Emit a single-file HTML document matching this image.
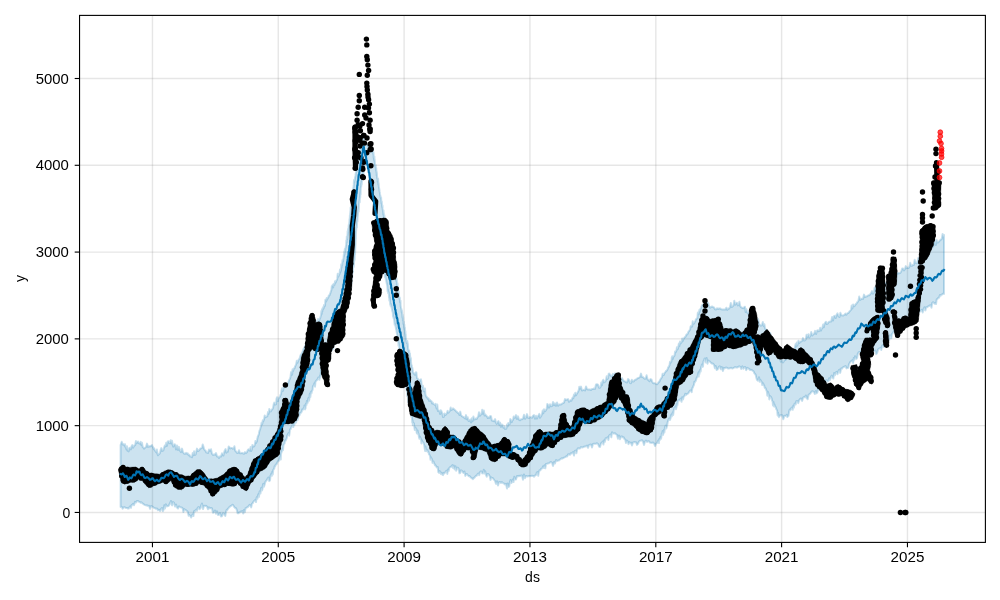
<!DOCTYPE html><html><head><meta charset="utf-8"><style>html,body{margin:0;padding:0;background:#fff;width:1000px;height:600px;overflow:hidden}svg{display:block;will-change:transform}</style></head><body><svg width="1000" height="600" viewBox="0 0 1000 600"><rect width="1000" height="600" fill="#fff"/><g stroke="#808080" stroke-opacity="0.2" stroke-width="1.39"><line x1="152.45" y1="15.4" x2="152.45" y2="542.4"/><line x1="278.28" y1="15.4" x2="278.28" y2="542.4"/><line x1="404.1" y1="15.4" x2="404.1" y2="542.4"/><line x1="529.95" y1="15.4" x2="529.95" y2="542.4"/><line x1="655.8" y1="15.4" x2="655.8" y2="542.4"/><line x1="781.6" y1="15.4" x2="781.6" y2="542.4"/><line x1="907.45" y1="15.4" x2="907.45" y2="542.4"/><line x1="79.55" y1="512.45" x2="985.4" y2="512.45"/><line x1="79.55" y1="425.66" x2="985.4" y2="425.66"/><line x1="79.55" y1="338.87" x2="985.4" y2="338.87"/><line x1="79.55" y1="252.08" x2="985.4" y2="252.08"/><line x1="79.55" y1="165.29" x2="985.4" y2="165.29"/><line x1="79.55" y1="78.5" x2="985.4" y2="78.5"/></g><polygon points="120.6,445.0 121.7,441.8 122.9,444.7 124.0,444.2 124.5,445.6 125.0,444.2 125.5,447.2 126.0,447.7 126.5,449.6 127.0,446.2 127.5,450.7 128.0,449.1 128.7,451.4 129.4,447.9 130.1,447.7 130.9,449.4 131.6,446.2 132.3,445.0 133.0,447.8 133.7,446.5 134.4,445.2 135.1,445.2 135.9,441.1 136.6,443.3 137.3,442.1 138.0,441.5 138.7,443.2 139.3,443.3 140.0,443.7 140.7,441.9 141.3,445.1 142.0,442.8 142.7,447.0 143.3,447.4 144.0,448.6 145.0,447.8 146.0,447.0 147.0,443.6 148.0,446.9 149.0,446.0 150.0,446.6 151.0,445.7 152.0,445.0 152.5,446.8 153.1,447.1 153.6,449.1 154.2,448.3 154.7,450.2 155.3,451.0 155.8,451.7 156.4,452.5 156.9,449.6 157.5,454.0 158.0,455.3 158.7,454.3 159.3,453.9 160.0,452.9 160.7,449.7 161.3,448.1 162.0,451.0 162.7,450.2 163.3,450.4 164.0,447.8 164.8,445.5 165.5,446.5 166.2,442.7 167.0,445.9 167.8,441.4 168.5,441.2 169.2,443.0 170.0,443.3 170.7,440.2 171.3,443.5 172.0,440.7 172.7,445.1 173.3,446.6 174.0,444.9 174.7,444.2 175.3,445.0 176.0,449.4 177.0,445.5 178.0,450.0 179.0,446.9 180.0,450.7 181.0,452.1 182.0,448.6 183.0,452.2 184.0,453.5 185.0,453.9 186.0,452.8 187.0,453.8 187.8,453.4 188.7,455.2 189.5,454.9 190.3,456.5 191.2,456.6 192.0,457.1 192.7,453.0 193.4,455.2 194.1,451.3 194.9,454.9 195.6,454.4 196.3,451.6 197.0,448.6 197.8,451.0 198.7,450.7 199.5,449.7 200.3,448.4 201.2,448.2 202.0,447.9 202.7,444.4 203.4,446.4 204.1,449.1 204.9,450.3 205.6,450.7 206.3,452.4 207.0,452.4 208.0,453.0 209.0,449.5 210.0,450.8 211.0,449.2 212.0,453.7 213.0,455.0 214.0,454.4 215.0,454.8 216.0,453.1 217.0,456.4 218.0,456.4 219.0,458.0 220.0,456.3 221.0,456.6 222.0,453.4 222.7,453.9 223.4,455.5 224.1,452.4 224.9,450.2 225.6,449.0 226.3,452.7 227.0,451.1 227.8,451.6 228.7,446.5 229.5,447.3 230.3,448.4 231.2,447.9 232.0,447.9 232.8,448.7 233.6,448.4 234.4,446.3 235.2,450.6 236.0,451.5 237.0,452.8 238.0,453.0 239.0,450.2 240.0,453.2 241.0,453.3 242.0,452.8 243.0,453.5 244.0,453.8 245.0,452.1 246.0,453.1 247.0,452.0 248.0,449.7 249.0,449.3 250.0,450.8 250.6,447.1 251.2,451.0 251.8,449.3 252.4,445.0 253.0,446.8 253.6,446.1 254.2,446.3 254.8,444.7 255.4,441.0 256.0,443.1 256.3,441.9 256.6,440.7 256.9,441.7 257.1,439.8 257.4,438.6 257.7,436.9 258.0,435.9 258.3,435.5 258.6,434.9 258.9,433.7 259.1,432.3 259.4,431.2 259.7,430.1 260.0,429.8 260.4,428.2 260.8,426.8 261.2,425.9 261.6,422.7 262.0,424.2 262.4,423.4 262.8,420.3 263.2,421.3 263.6,420.2 264.0,419.6 264.7,415.4 265.3,417.3 266.0,416.9 266.7,416.5 267.3,416.3 268.0,412.1 268.7,413.9 269.3,408.9 270.0,411.6 270.7,411.4 271.3,410.4 272.0,409.4 272.6,408.9 273.1,407.7 273.7,404.2 274.3,402.6 274.9,404.5 275.4,404.4 276.0,404.3 276.5,398.8 277.0,397.3 277.5,400.7 278.0,401.0 278.5,398.3 279.0,398.2 279.5,397.1 280.0,396.5 280.5,394.9 281.0,394.1 281.5,390.5 282.0,388.3 282.6,391.0 283.1,390.4 283.7,387.0 284.2,385.1 284.8,385.4 285.3,386.4 285.9,386.2 286.4,384.8 287.0,385.3 287.5,384.4 288.0,383.5 288.5,381.7 289.0,380.4 289.5,379.7 290.0,378.4 290.5,377.0 291.0,372.5 291.4,371.7 291.8,374.9 292.2,373.9 292.6,369.2 293.0,371.1 293.4,370.1 293.8,368.7 294.2,368.2 294.6,368.2 295.0,366.5 295.6,365.5 296.2,363.9 296.8,360.7 297.4,362.8 298.0,361.3 298.4,360.3 298.9,359.3 299.3,359.0 299.7,358.2 300.1,356.6 300.6,355.0 301.0,354.5 301.4,354.1 301.9,353.0 302.3,352.1 302.7,351.1 303.1,350.0 303.6,348.8 304.0,348.1 304.4,347.4 304.9,346.4 305.3,345.2 305.7,344.9 306.1,343.7 306.6,341.8 307.0,341.3 307.5,339.9 308.0,339.9 308.6,338.5 309.1,337.2 309.6,337.5 310.1,336.0 310.7,335.3 311.2,331.9 311.7,333.2 312.2,328.8 312.7,331.6 313.3,331.1 313.8,326.6 314.3,329.5 314.8,329.4 315.3,324.2 315.9,322.8 316.4,325.4 316.9,320.7 317.4,324.3 318.0,319.1 318.5,321.9 319.0,321.6 319.3,320.0 319.7,319.0 320.0,318.4 320.3,317.8 320.7,316.3 321.0,315.2 321.3,311.1 321.7,314.0 322.0,309.2 322.3,311.6 322.7,308.0 323.0,309.5 323.3,306.9 323.7,308.5 324.0,305.1 324.3,306.6 324.7,305.4 325.0,305.6 325.4,299.9 325.8,299.6 326.2,301.4 326.7,298.1 327.1,299.7 327.5,298.5 327.9,297.7 328.3,297.5 328.8,295.5 329.2,295.6 329.6,295.1 330.0,293.8 330.5,292.8 330.9,291.1 331.4,290.0 331.8,286.2 332.3,285.9 332.7,284.8 333.2,287.4 333.6,283.9 334.1,284.6 334.5,284.8 335.0,281.2 335.5,282.7 335.9,281.9 336.4,280.4 336.8,280.2 337.3,278.4 337.7,273.8 338.2,276.8 338.6,276.1 339.1,274.6 339.5,274.1 340.0,269.4 340.2,272.5 340.5,271.6 340.8,270.6 341.0,270.8 341.2,264.3 341.5,267.7 341.8,264.1 342.0,265.3 342.2,264.9 342.5,260.1 342.8,261.9 343.0,261.5 343.2,259.7 343.4,258.8 343.6,257.8 343.8,254.5 344.0,256.1 344.2,251.6 344.4,254.7 344.6,254.2 344.8,249.1 345.0,252.1 345.2,250.8 345.3,248.8 345.5,248.2 345.7,247.6 345.8,246.5 346.0,245.8 346.2,244.0 346.3,240.5 346.5,241.8 346.7,242.4 346.8,236.5 347.0,239.1 347.2,239.2 347.3,238.5 347.5,236.3 347.6,231.3 347.8,235.1 348.0,229.1 348.1,232.8 348.3,231.9 348.4,230.8 348.5,229.7 348.7,225.1 348.8,227.9 348.9,226.5 349.0,225.1 349.1,224.5 349.2,223.3 349.4,222.3 349.5,219.0 349.6,220.4 349.7,218.9 349.8,218.6 349.9,215.1 350.1,216.0 350.2,212.7 350.3,214.3 350.4,211.1 350.5,212.5 350.6,207.4 350.8,207.5 350.9,209.6 351.0,209.7 351.1,207.7 351.2,206.2 351.3,205.4 351.5,204.7 351.6,203.7 351.7,202.0 351.8,197.7 351.9,200.3 352.0,199.2 352.2,198.7 352.3,196.7 352.4,196.3 352.5,192.6 352.6,193.7 352.7,190.6 352.9,192.6 353.0,191.4 353.1,190.4 353.2,189.4 353.3,188.8 353.4,187.5 353.6,187.1 353.7,185.4 353.8,184.9 354.0,179.9 354.2,182.6 354.4,181.1 354.6,180.8 354.8,179.5 354.9,178.8 355.1,177.1 355.3,176.6 355.5,175.5 355.7,174.0 355.9,172.7 356.1,172.1 356.3,168.8 356.5,171.5 356.7,168.9 356.9,167.9 357.1,167.4 357.2,166.1 357.4,165.1 357.6,164.1 357.8,163.4 358.0,159.8 358.2,160.8 358.4,157.5 358.6,159.6 358.8,158.3 359.0,156.6 359.2,156.6 359.3,155.1 359.5,155.5 359.7,152.6 359.9,151.9 360.1,150.6 360.3,150.8 360.7,149.4 361.0,148.4 361.4,146.6 361.8,146.3 362.1,146.2 362.5,143.7 362.9,142.8 363.2,142.8 363.6,138.2 364.3,142.6 364.9,142.6 365.6,144.1 366.3,144.1 367.0,145.0 367.6,145.4 368.3,147.0 369.0,148.1 369.6,149.4 370.3,149.5 371.0,149.6 371.7,151.9 372.3,151.1 373.0,149.1 373.2,153.9 373.3,154.4 373.5,152.4 373.7,157.5 373.8,158.0 374.0,158.3 374.2,160.4 374.4,156.4 374.5,161.3 374.7,159.6 374.9,163.5 375.0,164.8 375.2,166.3 375.4,166.9 375.5,164.7 375.7,165.1 375.9,169.4 376.0,170.0 376.2,168.1 376.4,172.2 376.6,171.3 376.7,175.4 376.9,172.8 377.1,176.9 377.2,178.4 377.4,177.7 377.6,179.9 377.7,181.6 377.9,180.7 378.1,178.7 378.2,180.6 378.4,184.8 378.6,183.0 378.8,186.8 378.9,187.0 379.1,188.0 379.3,189.1 379.4,190.1 379.6,191.5 379.8,192.4 379.9,193.2 380.1,194.4 380.3,195.4 380.4,196.2 380.6,197.5 380.8,197.8 381.0,198.9 381.1,197.3 381.3,201.0 381.5,203.3 381.6,203.2 381.8,201.5 382.0,205.4 382.1,206.7 382.3,207.5 382.5,205.6 382.6,208.9 382.8,209.9 383.0,211.0 383.2,212.7 383.3,214.7 383.5,210.4 383.7,215.2 383.8,213.0 384.0,218.5 384.2,218.4 384.4,215.2 384.6,220.5 384.8,221.4 385.0,222.3 385.2,223.4 385.4,224.8 385.6,225.4 385.9,223.3 386.1,223.8 386.3,226.2 386.5,227.0 386.7,230.1 386.9,232.8 387.1,232.5 387.3,233.7 387.5,230.5 387.7,232.1 387.9,235.9 388.1,237.8 388.3,239.7 388.5,240.5 388.7,240.6 388.9,238.3 389.1,242.1 389.4,243.2 389.6,244.5 389.8,244.8 390.0,246.8 390.2,243.9 390.4,248.1 390.6,249.9 390.8,246.3 391.0,251.7 391.2,248.7 391.4,250.6 391.5,254.5 391.7,255.3 391.9,256.3 392.1,257.6 392.3,255.3 392.4,259.4 392.6,260.7 392.8,258.5 393.0,260.2 393.2,260.9 393.3,264.5 393.5,265.0 393.7,262.2 393.9,267.8 394.1,265.4 394.2,269.6 394.4,270.3 394.6,270.7 394.8,272.9 395.0,273.5 395.1,275.0 395.3,275.8 395.5,275.9 395.7,277.3 395.9,278.7 396.0,279.6 396.2,280.5 396.4,281.3 396.6,278.6 396.8,279.9 396.9,284.4 397.1,285.3 397.3,286.0 397.5,283.2 397.7,289.1 397.8,289.4 398.0,290.5 398.2,292.3 398.4,292.3 398.6,292.9 398.7,294.2 398.9,291.5 399.1,295.9 399.3,297.7 399.5,298.4 399.6,299.1 399.8,297.7 400.0,302.1 400.2,301.9 400.3,300.8 400.5,300.6 400.6,305.0 400.8,306.8 401.0,307.4 401.1,308.0 401.3,308.9 401.5,309.9 401.6,311.3 401.8,312.6 401.9,310.3 402.1,311.9 402.3,315.2 402.4,317.1 402.6,317.9 402.8,315.0 402.9,320.6 403.1,316.7 403.2,318.6 403.4,323.9 403.6,323.7 403.7,324.3 403.9,321.8 404.1,328.0 404.2,327.8 404.4,324.8 404.5,329.4 404.7,327.6 404.9,327.7 405.0,333.1 405.2,334.2 405.4,331.2 405.5,336.3 405.7,334.3 405.8,337.6 406.0,338.9 406.2,340.9 406.4,341.3 406.6,342.2 406.8,343.1 407.1,343.5 407.3,340.9 407.5,342.5 407.7,346.1 407.9,343.9 408.1,349.2 408.3,349.1 408.5,350.1 408.8,351.5 409.0,352.7 409.2,350.5 409.4,354.2 409.6,356.0 409.8,356.9 410.0,353.5 410.2,358.9 410.5,357.2 410.7,360.2 410.9,358.3 411.1,362.8 411.3,364.0 411.5,364.8 411.7,365.3 411.9,366.3 412.2,367.4 412.4,368.3 412.6,369.4 412.8,371.0 413.0,371.7 413.6,373.5 414.1,373.3 414.7,374.5 415.3,374.8 415.9,372.3 416.4,372.5 417.0,378.2 417.6,378.3 418.1,379.0 418.7,380.3 419.3,380.7 419.9,381.0 420.4,379.7 421.0,379.3 421.4,382.0 421.8,386.2 422.2,386.7 422.6,387.2 423.0,385.8 423.4,389.3 423.8,391.3 424.2,390.9 424.6,391.2 425.0,388.6 425.4,394.1 425.8,395.7 426.2,396.1 426.6,397.3 427.0,397.1 427.7,398.6 428.5,398.2 429.2,400.9 429.9,399.8 430.6,400.8 431.4,401.1 432.1,403.6 432.8,402.6 433.5,404.0 434.3,404.5 435.0,404.9 435.6,403.9 436.1,406.6 436.7,408.6 437.3,404.6 437.9,411.0 438.4,410.1 439.0,410.7 439.6,411.6 440.1,414.1 440.7,410.2 441.3,410.9 441.9,412.4 442.4,413.8 443.0,417.1 443.8,416.8 444.5,413.5 445.3,415.0 446.1,414.4 446.8,413.3 447.6,410.9 448.4,412.7 449.2,411.7 449.9,410.9 450.7,407.5 451.5,410.0 452.2,409.4 453.0,408.4 453.8,409.0 454.6,409.8 455.4,410.3 456.2,411.5 457.0,411.8 457.8,412.9 458.6,412.9 459.4,415.0 460.2,411.6 461.0,415.0 461.8,416.1 462.7,416.7 463.5,416.9 464.3,417.8 465.2,418.6 466.0,415.1 466.8,419.2 467.7,417.2 468.5,420.9 469.3,420.8 470.2,419.5 471.0,422.5 471.8,418.2 472.6,421.2 473.4,416.4 474.2,419.5 475.0,419.3 475.8,418.5 476.6,419.0 477.4,417.5 478.2,416.4 479.0,412.2 479.8,415.8 480.6,414.8 481.4,414.2 482.2,409.7 483.0,413.8 483.8,410.4 484.6,415.5 485.4,414.5 486.2,415.8 487.0,416.3 487.8,418.0 488.6,417.3 489.4,417.8 490.2,416.0 491.0,416.2 491.8,420.3 492.6,420.8 493.5,420.8 494.3,421.3 495.1,419.1 495.9,422.4 496.8,424.0 497.6,422.0 498.4,421.0 499.2,424.7 500.1,422.6 500.9,426.9 501.7,424.5 502.5,424.9 503.4,427.8 504.2,426.2 505.0,429.0 505.7,428.4 506.3,428.6 507.0,424.5 507.7,426.4 508.3,422.9 509.0,424.0 509.7,424.2 510.3,419.1 511.0,420.0 511.7,422.1 512.3,420.4 513.0,419.9 513.7,416.5 514.3,417.6 515.0,417.7 516.0,415.1 517.0,419.0 518.0,416.4 519.0,419.6 520.0,420.3 521.0,419.3 522.0,419.3 523.0,418.6 524.0,414.7 525.0,418.8 526.0,417.6 527.0,414.1 528.0,417.7 529.0,418.0 530.0,417.1 531.0,417.4 532.0,417.8 533.0,415.8 534.0,415.1 535.0,418.8 536.0,415.8 537.0,418.6 538.0,416.0 538.7,415.1 539.3,413.8 540.0,417.8 540.7,416.6 541.3,415.7 542.0,414.0 542.7,410.5 543.3,413.2 544.0,409.3 544.7,411.3 545.3,410.9 546.0,409.9 546.7,408.7 547.3,404.0 548.0,404.7 549.0,407.6 550.0,404.3 551.0,406.3 552.0,406.1 553.0,402.0 554.0,405.2 555.0,403.3 556.0,405.8 557.0,402.5 558.0,405.8 559.0,404.6 560.0,404.4 561.0,404.4 562.0,403.7 563.0,403.2 564.0,402.6 565.0,399.1 566.0,400.0 567.0,399.4 568.0,399.1 569.0,401.8 570.0,400.8 570.7,400.1 571.3,400.8 572.0,399.1 572.7,397.5 573.3,398.3 574.0,394.4 574.7,395.8 575.3,392.7 576.0,395.3 576.7,393.9 577.3,393.0 578.0,391.7 578.7,390.4 579.3,386.7 580.0,388.7 581.0,386.6 582.0,390.6 583.0,390.1 584.0,389.8 585.0,390.4 586.0,386.4 587.0,389.0 588.0,389.5 589.0,389.4 590.0,389.5 591.0,390.0 592.0,388.9 593.0,389.1 594.0,388.4 595.0,388.9 596.0,384.5 597.0,384.3 598.0,384.6 599.0,387.7 600.0,387.7 600.7,386.5 601.3,382.5 602.0,385.2 602.7,380.8 603.3,379.7 604.0,382.4 604.7,381.9 605.3,381.5 606.0,379.9 606.7,376.3 607.3,379.0 608.0,378.3 608.7,373.8 609.3,373.6 610.0,374.8 611.0,375.7 612.0,376.7 613.0,373.9 614.0,376.7 615.0,373.3 616.0,377.5 617.0,378.0 618.0,378.6 619.0,375.5 620.0,379.4 621.0,379.4 622.0,378.1 623.0,380.0 624.0,381.1 625.0,381.4 626.0,382.1 627.0,382.5 628.0,378.9 629.0,380.0 630.0,382.9 630.9,383.2 631.8,379.8 632.8,381.6 633.7,381.6 634.6,380.1 635.5,379.6 636.4,379.5 637.3,378.3 638.2,378.0 639.2,377.6 640.1,376.7 641.0,373.6 641.9,377.0 642.9,377.1 643.8,377.9 644.8,378.8 645.7,378.5 646.6,375.3 647.6,379.6 648.5,380.0 649.5,381.3 650.4,379.1 651.4,379.4 652.3,382.0 653.2,383.2 654.2,383.1 655.1,383.4 656.1,383.9 657.0,384.2 657.6,383.7 658.1,383.0 658.7,381.9 659.3,381.8 659.8,380.6 660.4,379.3 660.9,378.7 661.5,377.7 662.1,376.7 662.6,373.7 663.2,375.0 663.8,375.0 664.3,373.4 664.9,372.6 665.4,372.1 666.0,371.0 666.6,370.7 667.1,370.2 667.7,368.8 668.2,367.3 668.6,367.2 669.1,365.9 669.5,365.3 670.0,361.8 670.5,362.9 670.9,361.9 671.4,361.6 671.8,357.4 672.3,356.2 672.8,359.0 673.2,357.1 673.7,356.6 674.2,355.9 674.6,355.2 675.1,351.4 675.5,352.4 676.0,351.5 676.5,350.6 676.9,347.3 677.4,349.4 677.8,348.9 678.3,346.9 678.9,343.4 679.4,346.1 680.0,341.6 680.6,343.5 681.1,342.7 681.7,342.1 682.2,338.4 682.8,341.0 683.4,339.4 683.9,338.3 684.5,337.5 685.1,336.8 685.6,336.7 686.2,335.0 686.7,334.2 687.3,334.4 687.9,333.2 688.4,331.7 689.0,331.1 689.5,330.3 690.1,329.6 690.6,326.5 691.1,325.7 691.7,326.8 692.2,326.1 692.7,321.3 693.3,323.6 693.8,323.7 694.3,322.9 694.9,321.7 695.4,321.0 695.9,319.2 696.5,319.1 697.0,318.1 697.4,318.4 697.8,312.7 698.1,314.7 698.5,311.9 698.9,314.2 699.3,310.1 699.6,311.9 700.0,310.3 700.4,308.9 700.8,308.6 701.2,307.6 701.5,306.4 701.9,305.6 702.3,304.9 703.3,304.3 704.2,305.5 705.2,304.9 706.2,301.6 707.2,302.4 708.1,302.9 709.1,306.0 710.1,307.7 711.1,306.9 712.0,306.5 713.0,307.0 714.0,307.4 715.0,309.2 716.1,309.4 717.1,308.2 718.1,309.0 719.1,308.5 720.2,308.4 721.2,309.2 722.2,309.4 723.2,309.6 724.3,309.6 725.3,309.6 726.3,307.7 727.2,309.9 728.1,308.6 729.0,308.7 729.9,307.5 730.8,303.0 731.6,307.1 732.5,306.4 733.4,305.6 734.3,300.8 735.2,304.7 736.1,303.3 737.0,302.7 737.8,305.4 738.6,304.7 739.4,301.8 740.2,306.1 741.0,307.2 741.8,307.5 742.6,308.1 743.4,308.3 744.2,307.1 745.0,306.8 745.7,312.1 746.4,309.2 747.0,311.8 747.7,313.3 748.4,313.6 749.1,311.4 749.8,311.5 750.4,317.6 751.1,313.6 751.8,318.7 752.5,318.9 753.2,315.6 753.8,316.7 754.5,320.7 755.2,321.4 756.2,322.6 757.1,322.9 758.1,319.0 759.0,324.0 760.0,324.8 760.9,325.7 761.9,325.0 762.8,322.0 763.8,326.3 764.4,324.2 765.0,328.0 765.5,329.1 766.1,329.7 766.7,329.8 767.3,331.1 767.9,331.6 768.4,333.1 769.0,334.0 769.6,334.7 770.2,333.0 770.8,336.0 771.3,337.4 771.9,338.6 772.5,339.1 772.8,340.3 773.2,341.4 773.5,339.6 773.9,343.9 774.2,343.4 774.6,345.8 774.9,347.0 775.3,342.9 775.6,344.0 776.0,349.1 776.3,348.9 776.7,350.9 777.0,351.3 777.4,352.1 777.7,353.2 778.1,353.7 778.4,354.7 778.8,356.7 779.1,357.5 779.5,356.0 779.8,358.9 780.2,356.5 780.5,360.4 780.9,361.7 781.2,360.6 782.1,359.5 782.9,362.5 783.8,361.3 784.6,359.8 785.5,360.0 786.4,355.6 787.2,358.4 788.1,357.4 788.9,357.3 789.8,357.1 790.4,352.4 791.0,354.9 791.5,351.2 792.1,350.3 792.7,349.6 793.3,351.6 793.9,350.4 794.4,350.8 795.0,346.4 795.6,343.9 796.2,346.5 796.8,342.5 797.3,345.4 797.9,343.7 798.5,340.8 799.4,343.0 800.3,341.6 801.2,341.6 802.1,340.8 803.0,338.1 803.9,340.5 804.8,340.4 805.7,339.5 806.6,334.7 807.5,337.3 808.4,334.3 809.3,337.5 810.3,336.0 811.2,331.9 812.2,335.6 813.2,334.3 814.1,333.8 815.1,330.9 816.1,334.0 817.0,330.7 818.0,330.2 818.7,331.3 819.5,330.7 820.2,327.7 820.9,330.6 821.6,328.9 822.4,327.9 823.1,324.4 823.8,327.2 824.5,323.9 825.2,322.6 826.0,321.7 826.7,324.1 827.6,323.7 828.5,322.2 829.4,321.7 830.3,321.5 831.2,321.6 832.1,317.0 833.0,320.5 833.9,316.2 834.8,315.8 835.7,318.0 836.6,314.8 837.5,313.4 838.5,316.3 839.5,316.9 840.4,312.8 841.4,315.3 842.4,315.4 843.4,315.5 844.4,314.8 845.4,313.6 846.3,314.8 847.3,313.2 848.3,313.1 849.0,312.1 849.7,311.2 850.3,310.6 851.0,309.9 851.7,305.4 852.4,308.5 853.1,304.4 853.8,306.0 854.4,306.2 855.1,305.2 855.8,304.0 856.5,303.7 857.2,302.2 857.8,301.9 858.5,300.4 859.2,296.5 860.2,299.9 861.1,299.1 862.1,298.5 863.0,298.9 864.0,294.6 864.9,297.1 865.8,296.5 866.7,296.6 867.5,295.8 868.4,295.3 869.3,295.2 870.2,294.3 871.1,293.2 872.0,291.1 872.9,293.7 873.8,292.4 874.6,287.7 875.5,286.9 876.4,291.9 877.3,289.4 878.1,289.2 878.9,288.3 879.7,287.6 880.5,284.1 881.3,286.2 882.1,285.6 882.9,285.5 883.7,284.6 884.5,284.1 885.3,283.2 886.1,282.4 886.9,283.4 887.7,277.5 888.5,280.2 889.3,280.4 890.1,279.3 890.9,278.2 891.7,278.2 892.5,278.1 893.3,277.0 894.2,275.8 895.1,275.6 896.0,275.2 896.9,272.4 897.8,273.6 898.7,273.0 899.6,273.2 900.4,272.8 901.3,271.3 902.2,268.4 903.1,268.5 904.0,270.4 904.9,269.1 905.8,266.1 906.7,268.2 907.6,267.6 908.5,268.0 909.4,266.9 910.2,262.7 911.1,265.8 912.0,265.7 912.9,264.8 913.8,265.0 914.7,259.7 915.6,262.7 916.5,263.3 917.3,262.8 918.2,258.1 919.1,260.7 920.0,256.5 920.6,256.5 921.3,259.3 921.9,258.0 922.5,257.0 923.1,256.7 923.8,255.3 924.4,252.3 925.0,250.3 925.7,253.7 926.3,253.2 926.9,252.5 927.6,247.9 928.2,250.9 928.8,249.6 929.4,246.8 930.1,245.5 930.7,247.2 931.6,246.5 932.4,246.7 933.2,246.5 934.1,242.2 935.0,240.9 935.8,245.1 936.6,239.8 937.5,242.5 938.2,242.5 938.9,241.6 939.7,240.7 940.4,239.7 941.1,239.5 941.8,238.8 942.6,234.0 943.3,237.2 944.0,235.0 944.0,294.0 943.2,293.5 942.4,294.4 941.6,294.5 940.8,295.6 939.9,295.0 939.1,297.7 938.3,297.8 937.5,298.9 936.7,299.4 936.0,304.1 935.2,303.0 934.5,303.8 933.7,302.6 933.0,302.2 932.2,303.0 931.5,307.7 930.7,305.2 929.8,305.4 928.9,306.1 928.0,306.5 927.1,307.3 926.2,307.3 925.4,310.4 924.5,307.2 923.6,309.0 922.7,312.5 921.8,309.7 920.9,310.4 920.0,311.6 919.3,311.6 918.5,313.1 917.8,313.1 917.0,313.0 916.3,318.8 915.6,319.5 914.8,316.0 914.1,317.0 913.4,318.1 912.6,319.1 911.9,322.9 911.1,323.6 910.4,321.4 909.7,322.0 908.9,322.7 908.2,321.9 907.4,323.4 906.7,324.5 905.8,325.1 904.9,325.8 904.0,326.2 903.1,326.4 902.2,330.6 901.3,327.9 900.4,328.6 899.6,329.0 898.7,329.7 897.8,329.6 896.9,332.8 896.0,331.1 895.1,330.7 894.2,331.1 893.3,332.1 892.6,333.4 892.0,334.0 891.3,338.2 890.6,335.7 890.0,335.2 889.3,339.8 888.6,338.1 888.0,341.4 887.3,342.9 886.6,343.7 886.0,341.5 885.3,342.0 884.7,346.1 884.0,346.9 883.3,346.8 882.7,345.3 882.0,346.0 881.3,349.9 880.7,347.8 880.0,348.2 879.0,348.6 878.1,349.5 877.1,353.1 876.2,354.2 875.2,350.5 874.3,351.0 873.4,351.4 872.4,352.1 871.5,355.2 870.5,351.9 869.6,355.3 868.6,356.2 867.7,353.7 866.7,356.2 865.6,354.1 864.6,352.3 863.5,353.0 862.4,352.3 861.3,352.3 860.3,351.9 859.2,352.0 858.5,352.6 857.8,353.7 857.2,357.5 856.5,358.9 855.8,358.3 855.1,356.2 854.4,359.9 853.8,358.0 853.1,362.9 852.4,360.1 851.7,360.9 851.0,361.4 850.3,361.9 849.7,363.0 849.0,364.2 848.3,367.8 847.4,368.1 846.5,368.4 845.6,366.1 844.7,366.5 843.8,366.9 842.9,367.3 842.0,368.8 841.1,368.6 840.2,372.9 839.3,369.6 838.4,371.0 837.5,374.3 836.7,371.9 835.8,372.3 835.0,375.3 834.2,373.0 833.3,378.5 832.5,377.6 831.7,375.6 830.9,376.9 830.0,380.1 829.2,378.2 828.4,380.9 827.5,381.6 826.7,380.2 826.0,380.5 825.2,383.7 824.5,382.3 823.8,382.7 823.1,385.4 822.3,384.5 821.6,384.9 820.9,385.7 820.2,385.9 819.4,387.4 818.7,390.2 818.0,388.5 817.3,392.6 816.5,393.4 815.8,391.0 814.9,394.0 814.0,392.0 813.1,391.5 812.2,391.2 811.3,392.0 810.4,393.4 809.5,394.2 808.6,394.8 807.7,399.2 806.8,398.3 805.9,395.5 805.0,397.3 804.0,396.9 803.1,397.8 802.1,401.0 801.1,398.5 800.2,398.9 799.2,400.2 798.2,403.1 797.3,401.0 796.3,401.2 795.7,404.5 795.1,403.3 794.5,404.0 793.9,407.5 793.3,405.8 792.7,409.8 792.1,407.5 791.5,407.8 790.9,408.9 790.3,410.3 789.7,409.5 789.1,411.5 788.5,415.8 787.9,416.4 787.3,417.0 786.7,414.8 786.1,415.7 785.5,415.9 784.4,415.8 783.3,419.3 782.2,415.3 781.2,415.2 780.1,415.3 779.0,417.1 778.5,416.1 778.1,412.8 777.6,415.5 777.2,410.9 776.7,409.7 776.3,409.1 775.8,407.5 775.3,406.5 774.9,406.3 774.4,404.2 774.0,406.5 773.5,402.1 773.0,405.6 772.6,401.2 772.1,400.8 771.7,398.5 771.2,397.6 770.8,396.7 770.3,396.5 769.8,395.8 769.3,399.4 768.8,394.9 768.3,393.0 767.8,391.7 767.3,395.7 766.8,391.2 766.3,390.3 765.7,388.2 765.2,388.2 764.7,387.7 764.2,385.5 763.7,385.3 763.2,383.5 762.7,383.3 762.2,385.1 761.7,381.9 761.0,381.0 760.4,379.9 759.7,381.8 759.0,377.2 758.4,380.1 757.7,380.6 757.0,379.9 756.3,377.8 755.7,374.9 755.0,373.9 754.3,373.2 753.7,371.6 753.0,371.0 752.0,370.2 751.1,369.8 750.1,370.0 749.1,368.9 748.1,368.3 747.2,367.8 746.2,370.2 745.2,367.0 744.2,367.2 743.3,368.7 742.3,366.3 741.3,369.0 740.3,366.8 739.2,366.3 738.2,367.0 737.2,367.5 736.2,367.6 735.1,367.1 734.1,367.7 733.1,368.2 732.1,368.5 731.0,367.8 730.0,368.3 729.0,368.4 728.0,368.6 727.0,367.7 725.9,367.5 724.9,368.3 723.9,367.9 722.9,371.0 721.8,366.9 720.8,369.3 719.8,366.3 718.8,366.9 717.7,369.4 716.7,370.0 715.7,366.0 714.9,368.3 714.1,365.1 713.2,363.9 712.4,363.5 711.6,363.4 710.8,362.8 709.9,361.5 709.1,361.4 708.3,360.5 707.5,363.7 706.6,357.9 705.8,362.6 705.0,358.4 704.6,358.6 704.2,360.0 703.8,360.7 703.4,361.6 703.0,366.3 702.7,366.9 702.3,364.6 701.9,364.5 701.5,366.1 701.1,367.1 700.7,371.5 700.3,369.4 699.9,370.4 699.5,373.8 699.1,371.4 698.7,376.6 698.4,372.6 698.0,374.4 697.6,376.0 697.2,377.2 696.8,377.5 696.4,378.9 696.0,380.1 695.6,381.1 695.2,381.2 694.8,382.4 694.4,381.9 694.0,384.9 693.7,385.3 693.3,386.2 692.9,387.6 692.5,387.7 692.1,389.6 691.7,392.2 690.9,390.4 690.1,390.4 689.3,391.7 688.5,393.1 687.8,393.7 687.0,394.0 686.2,394.9 685.4,393.7 684.6,395.9 683.8,396.5 683.0,399.6 682.2,397.3 681.5,401.8 680.7,398.6 679.9,400.0 679.1,400.4 678.3,400.3 677.8,401.3 677.4,405.2 676.9,404.0 676.5,407.1 676.0,409.2 675.5,406.6 675.1,407.6 674.6,407.7 674.2,408.8 673.7,410.6 673.2,415.0 672.8,412.2 672.3,414.8 671.8,416.6 671.4,414.6 670.9,415.5 670.5,418.5 670.0,420.0 669.5,418.8 669.1,418.6 668.6,419.6 668.2,420.7 667.7,422.0 667.2,425.0 666.8,426.8 666.3,428.6 665.8,425.6 665.4,426.0 664.9,427.6 664.4,432.3 664.0,429.8 663.5,433.3 663.0,434.9 662.6,431.1 662.1,433.4 661.7,433.8 661.2,438.1 660.7,439.2 660.3,436.9 659.8,439.9 659.3,438.9 658.9,443.1 658.4,440.3 657.9,441.0 657.5,442.6 657.0,443.0 656.0,443.7 655.0,446.0 654.0,443.5 653.0,442.4 652.0,442.9 651.0,442.8 650.0,442.8 649.0,441.2 648.0,441.3 647.0,442.0 646.0,440.5 645.0,441.6 644.0,445.1 643.0,441.6 642.0,440.2 641.0,440.5 640.0,440.7 639.0,441.5 638.0,443.8 637.0,444.9 636.0,442.2 635.0,442.2 634.0,442.1 633.0,442.4 632.0,445.5 631.0,442.6 630.0,443.2 629.2,442.0 628.4,444.1 627.6,441.2 626.8,440.5 626.0,443.0 625.2,439.6 624.4,439.0 623.6,437.3 622.8,437.4 622.0,436.5 621.0,436.6 620.0,439.2 619.0,435.4 618.0,438.8 617.0,434.9 616.0,434.2 615.0,433.2 614.0,433.4 613.0,433.6 612.0,432.2 611.3,437.3 610.6,434.5 609.9,434.8 609.1,435.7 608.4,439.9 607.7,437.3 607.0,438.0 606.3,438.6 605.6,438.3 604.9,441.9 604.1,440.3 603.4,444.5 602.7,441.5 602.0,442.6 601.0,443.4 600.0,447.0 599.0,446.5 598.0,444.0 597.0,443.2 596.0,443.8 595.0,443.8 594.0,443.7 593.0,443.9 592.0,447.5 591.0,444.4 590.0,444.7 589.0,445.1 588.0,447.8 587.0,445.6 586.0,446.3 585.0,446.5 584.0,446.8 583.0,447.2 582.0,447.4 581.0,447.1 580.0,448.5 579.0,448.5 578.0,448.2 577.2,449.5 576.4,453.3 575.6,450.6 574.8,450.9 574.0,455.5 573.2,452.0 572.4,452.8 571.6,453.5 570.8,453.3 570.0,454.8 569.1,454.5 568.2,454.3 567.2,456.4 566.3,456.3 565.4,457.1 564.5,457.4 563.5,457.9 562.6,458.5 561.7,458.3 560.8,459.1 559.8,459.6 558.9,460.5 558.0,460.6 557.0,461.0 556.0,460.1 555.0,463.6 554.0,462.0 553.0,465.9 552.0,462.7 551.0,462.0 550.0,462.5 549.0,463.3 548.0,463.4 547.0,463.8 546.0,464.0 545.3,468.3 544.6,465.2 543.9,468.0 543.2,466.2 542.5,467.7 541.8,468.7 541.1,468.8 540.4,470.3 539.6,470.2 538.9,471.8 538.2,475.8 537.5,472.1 536.8,472.6 536.1,475.0 535.4,475.5 534.7,475.5 534.0,476.6 533.0,476.0 532.0,475.8 531.0,476.0 530.0,476.2 529.0,475.9 528.0,476.5 527.0,476.3 526.0,476.1 525.0,478.1 524.0,474.5 523.0,479.8 522.0,475.6 521.0,475.5 520.0,476.2 519.0,475.8 518.0,476.4 517.0,476.0 516.0,479.6 515.0,479.5 514.3,476.8 513.5,482.1 512.8,479.5 512.1,481.7 511.4,482.9 510.6,479.9 509.9,481.9 509.2,486.5 508.5,487.0 507.7,483.5 507.0,488.5 506.0,483.8 505.0,484.4 504.0,483.5 503.0,483.1 502.0,482.1 501.0,483.0 500.0,482.0 499.0,482.2 498.0,485.5 497.0,481.3 496.0,483.9 495.0,481.0 494.2,480.0 493.5,479.0 492.8,478.1 492.0,478.2 491.2,477.3 490.5,480.1 489.8,476.5 489.0,474.9 488.2,474.0 487.5,473.9 486.8,476.7 486.0,475.0 485.2,471.3 484.5,473.5 483.8,469.7 483.0,473.4 482.2,473.3 481.5,471.4 480.7,471.4 479.9,472.4 479.2,475.3 478.4,473.5 477.6,474.1 476.8,475.7 476.1,475.8 475.3,476.6 474.5,477.6 473.8,478.1 473.0,479.1 472.1,478.4 471.3,477.8 470.4,477.2 469.6,475.9 468.7,476.2 467.9,475.3 467.0,474.1 466.1,474.3 465.3,475.9 464.4,471.5 463.6,473.0 462.7,472.0 461.9,470.8 461.0,470.3 460.2,473.0 459.4,473.3 458.6,468.7 457.8,467.7 457.0,467.8 456.2,470.8 455.4,466.2 454.6,469.4 453.8,465.6 453.0,467.9 452.3,465.1 451.6,466.5 450.9,466.7 450.1,467.2 449.4,467.7 448.7,471.1 448.0,469.5 447.3,473.9 446.6,470.7 445.9,471.3 445.1,472.5 444.4,473.5 443.7,472.9 443.0,475.1 442.3,474.0 441.7,472.8 441.0,474.2 440.3,471.8 439.7,471.0 439.0,472.9 438.3,472.1 437.7,466.9 437.0,467.5 436.3,466.7 435.7,465.5 435.0,465.3 434.5,463.9 434.0,463.2 433.5,461.5 433.0,461.4 432.5,462.9 432.0,459.2 431.5,458.7 431.0,457.3 430.5,459.8 430.0,455.9 429.5,454.9 429.0,454.4 428.5,452.3 428.0,452.1 427.5,450.3 427.0,450.7 426.5,449.2 426.1,451.2 425.6,446.6 425.1,451.1 424.6,448.2 424.2,445.2 423.7,443.4 423.2,442.4 422.8,442.1 422.3,441.7 421.8,440.1 421.4,443.4 420.9,438.4 420.4,437.9 419.9,436.5 419.5,438.8 419.0,437.7 418.5,433.7 418.1,433.1 417.6,430.4 417.2,433.7 416.7,433.0 416.2,428.6 415.8,428.7 415.3,427.6 414.8,430.1 414.4,427.5 413.9,423.2 413.5,423.3 413.0,422.4 412.8,425.2 412.6,420.6 412.4,419.9 412.2,422.5 412.0,417.4 411.8,416.1 411.6,415.3 411.4,414.9 411.2,416.8 411.1,413.1 410.9,411.4 410.7,410.6 410.5,409.2 410.3,409.0 410.1,407.2 409.9,407.3 409.7,405.6 409.5,404.8 409.3,403.7 409.1,402.4 408.9,401.8 408.7,400.4 408.5,398.3 408.3,402.2 408.1,397.5 407.9,396.5 407.8,395.2 407.6,394.4 407.4,396.1 407.2,392.4 407.0,390.4 406.8,391.1 406.6,389.6 406.4,389.2 406.2,388.0 406.0,386.2 405.8,386.1 405.7,384.9 405.5,383.5 405.3,385.3 405.2,380.7 405.0,380.7 404.8,380.0 404.7,378.8 404.5,379.9 404.3,380.1 404.2,379.6 404.0,375.1 403.8,377.1 403.7,372.3 403.5,372.0 403.3,370.7 403.2,370.0 403.0,367.6 402.8,370.3 402.7,370.1 402.5,369.3 402.3,364.5 402.2,366.9 402.0,363.3 401.8,362.1 401.7,363.9 401.5,360.5 401.3,359.0 401.2,361.0 401.0,357.5 400.8,358.6 400.7,354.5 400.5,353.5 400.3,353.1 400.2,351.5 400.0,354.1 399.8,348.8 399.7,349.6 399.5,350.5 399.3,350.5 399.2,346.3 399.0,345.0 398.8,342.9 398.7,343.4 398.5,345.7 398.3,341.5 398.2,340.5 398.0,339.6 397.8,340.8 397.7,337.1 397.5,339.7 397.3,335.6 397.1,334.1 396.9,333.7 396.7,332.4 396.5,331.2 396.3,329.0 396.1,329.5 395.9,328.2 395.7,327.0 395.5,326.2 395.3,324.2 395.1,324.9 394.9,323.8 394.7,324.8 394.4,321.8 394.2,320.1 394.0,318.8 393.8,318.8 393.6,317.8 393.4,316.6 393.2,316.0 393.0,316.7 392.8,312.9 392.6,312.0 392.4,311.3 392.2,310.9 392.0,309.2 391.8,308.5 391.6,307.0 391.4,307.1 391.2,305.2 391.0,304.9 390.8,303.7 390.6,305.8 390.4,303.9 390.2,304.5 390.0,299.9 389.8,297.4 389.6,299.9 389.4,300.7 389.2,295.5 389.0,298.0 388.8,292.9 388.6,292.3 388.4,291.9 388.2,293.1 388.0,289.7 387.8,291.7 387.6,291.1 387.4,286.9 387.2,285.2 387.0,284.6 386.8,283.8 386.6,282.5 386.4,281.9 386.2,280.1 386.0,279.2 385.8,279.3 385.6,277.5 385.4,276.8 385.2,275.1 385.1,277.2 384.9,276.8 384.7,272.4 384.5,274.0 384.3,271.2 384.1,269.4 383.9,268.8 383.7,267.1 383.5,266.3 383.3,269.2 383.1,267.2 382.9,266.3 382.7,262.8 382.5,262.2 382.3,260.4 382.1,259.9 381.9,262.2 381.8,258.2 381.6,260.0 381.4,258.3 381.2,254.1 381.0,254.0 380.8,256.3 380.6,253.7 380.4,250.8 380.2,250.2 380.0,248.7 379.8,247.9 379.7,249.5 379.5,245.8 379.4,245.1 379.2,247.4 379.1,241.5 378.9,245.2 378.8,240.9 378.6,239.4 378.5,241.4 378.3,238.2 378.2,236.6 378.0,238.5 377.9,234.3 377.8,233.9 377.7,231.9 377.5,231.3 377.4,230.2 377.3,229.6 377.2,228.2 377.1,226.9 377.0,226.7 376.8,225.8 376.7,225.2 376.6,224.0 376.5,222.5 376.4,222.2 376.3,220.2 376.2,219.4 376.0,219.0 375.9,217.3 375.8,218.9 375.7,216.2 375.6,215.2 375.5,213.6 375.3,213.0 375.2,214.2 375.1,210.9 375.0,209.7 374.8,208.2 374.7,208.2 374.5,208.7 374.4,205.5 374.2,204.7 374.1,203.5 373.9,202.3 373.8,202.0 373.6,200.7 373.5,199.5 373.3,201.8 373.2,196.9 373.0,199.3 372.8,195.5 372.7,198.4 372.5,193.3 372.4,192.9 372.2,191.1 372.1,193.4 371.9,192.0 371.8,189.1 371.6,191.8 371.5,186.0 371.3,184.6 371.2,185.0 371.0,182.8 370.8,185.2 370.7,181.6 370.5,180.4 370.4,179.5 370.2,179.0 370.1,181.2 369.9,177.0 369.8,175.2 369.6,173.7 369.5,173.4 369.3,172.6 369.2,175.2 369.0,170.9 368.8,169.0 368.6,168.9 368.4,167.5 368.1,166.9 367.9,168.7 367.7,164.1 367.5,163.4 367.3,162.8 367.1,161.2 366.9,161.2 366.6,162.4 366.4,159.1 366.2,158.2 366.0,156.2 365.8,161.1 365.6,158.5 365.4,159.9 365.2,164.3 365.0,162.0 364.9,163.0 364.7,165.7 364.5,167.9 364.3,166.0 364.1,166.5 363.9,168.2 363.7,169.2 363.5,173.4 363.3,173.0 363.1,175.7 363.0,173.1 362.8,174.1 362.6,178.1 362.4,175.3 362.2,179.4 362.0,177.3 361.9,182.0 361.8,182.6 361.7,184.7 361.6,181.4 361.4,182.7 361.3,183.2 361.2,187.0 361.1,186.3 361.0,187.2 360.9,187.3 360.8,188.2 360.7,188.6 360.6,194.6 360.4,192.1 360.3,195.1 360.2,197.4 360.1,194.1 360.0,198.2 359.9,197.0 359.8,198.1 359.7,202.2 359.6,199.3 359.4,200.7 359.3,201.3 359.2,202.8 359.1,203.4 359.0,204.4 358.9,209.5 358.8,206.3 358.7,211.6 358.6,208.8 358.4,209.4 358.3,211.0 358.2,210.4 358.1,212.3 358.0,213.4 357.9,214.9 357.8,216.3 357.7,215.7 357.6,217.2 357.4,221.8 357.3,221.7 357.2,220.6 357.1,221.6 357.0,222.1 356.9,227.5 356.8,225.0 356.7,225.5 356.6,226.2 356.4,227.1 356.3,228.9 356.2,230.2 356.1,230.9 356.0,231.8 356.0,232.6 355.9,234.3 355.9,234.6 355.8,239.2 355.8,236.5 355.7,237.5 355.7,239.0 355.6,239.6 355.6,241.3 355.5,241.8 355.5,242.2 355.5,243.9 355.4,245.2 355.4,245.6 355.3,247.2 355.3,247.7 355.2,248.9 355.2,250.1 355.1,254.3 355.1,251.9 355.0,252.8 355.0,252.4 354.9,254.1 354.7,256.1 354.6,260.4 354.5,257.4 354.3,258.7 354.2,259.4 354.1,260.9 353.9,265.3 353.8,265.5 353.7,267.0 353.5,264.9 353.4,266.2 353.3,266.6 353.1,267.8 353.0,268.5 352.9,272.6 352.7,271.2 352.6,271.7 352.5,272.2 352.3,273.4 352.2,277.6 352.1,278.1 351.9,276.2 351.8,277.2 351.7,278.6 351.5,283.4 351.4,280.1 351.3,281.5 351.1,283.1 351.0,287.0 350.8,284.3 350.6,285.6 350.4,286.8 350.2,287.2 350.0,289.0 349.8,293.2 349.6,289.4 349.4,291.1 349.2,292.7 349.0,294.1 348.8,295.2 348.6,299.4 348.4,296.8 348.2,297.5 348.0,299.2 347.7,298.5 347.5,300.3 347.2,305.2 346.9,305.9 346.7,304.2 346.4,304.8 346.1,308.4 345.9,306.3 345.6,309.8 345.3,309.0 345.1,309.8 344.8,310.7 344.5,311.2 344.3,312.6 344.0,313.2 343.7,318.8 343.5,316.1 343.2,319.2 342.9,317.6 342.7,318.6 342.4,319.6 342.1,324.1 341.9,325.2 341.6,325.2 341.3,323.7 341.1,324.8 340.8,329.2 340.5,327.2 340.3,330.4 340.0,329.2 339.7,329.7 339.3,331.2 339.0,331.2 338.7,336.0 338.4,333.3 338.0,334.1 337.7,335.6 337.4,336.5 337.0,336.9 336.7,341.4 336.2,343.6 335.7,340.4 335.2,340.9 334.8,342.7 334.3,343.7 333.8,344.1 333.3,348.7 332.6,346.0 332.0,350.1 331.3,350.9 330.7,348.4 330.0,349.4 329.3,350.3 328.7,351.4 328.0,351.7 327.4,352.9 326.7,352.7 326.3,354.3 326.0,355.4 325.6,356.2 325.3,357.5 324.9,358.5 324.6,359.6 324.2,360.3 323.9,365.3 323.6,362.2 323.2,363.9 322.9,368.5 322.5,365.5 322.2,368.6 322.0,366.8 321.8,368.8 321.5,373.1 321.2,370.4 321.0,371.7 320.8,372.6 320.5,375.8 320.2,377.6 320.0,375.6 319.4,379.8 318.9,377.7 318.3,377.6 317.8,378.8 317.2,379.9 316.6,380.3 316.1,381.0 315.5,381.7 315.0,386.7 314.4,383.3 313.9,384.6 313.3,385.9 312.9,386.5 312.6,389.8 312.2,390.7 311.9,391.5 311.5,393.2 311.2,391.6 310.8,392.1 310.4,397.0 310.1,393.4 309.7,394.5 309.4,398.9 309.0,400.8 308.7,397.9 308.3,398.2 307.8,402.0 307.4,403.3 306.9,400.9 306.4,405.1 305.9,403.8 305.5,408.3 305.0,409.4 304.5,405.6 304.1,407.0 303.6,408.4 303.1,409.5 302.6,409.9 302.2,409.4 301.7,411.8 301.1,412.4 300.6,413.2 300.0,412.9 299.5,415.4 298.9,415.4 298.4,416.6 297.8,419.9 297.2,418.7 296.7,419.0 296.1,422.6 295.6,420.0 295.0,420.8 294.4,425.0 293.9,423.0 293.3,427.1 292.8,424.1 292.2,426.0 291.7,426.7 291.1,427.8 290.6,429.3 290.0,429.5 289.6,432.7 289.2,435.7 288.8,433.0 288.4,433.3 288.1,434.0 287.7,435.2 287.3,435.2 286.9,437.8 286.5,438.7 286.1,439.4 285.7,440.6 285.3,441.0 284.9,440.6 284.6,443.3 284.2,444.0 283.8,444.5 283.4,445.6 283.0,450.2 282.8,450.2 282.5,448.5 282.2,449.9 282.0,451.2 281.8,451.5 281.5,452.3 281.2,453.1 281.0,454.5 280.8,459.5 280.5,455.2 280.2,457.4 280.0,458.0 279.4,459.7 278.9,460.8 278.3,461.1 277.7,461.6 277.1,462.9 276.6,464.2 276.0,464.5 275.5,465.1 275.1,466.6 274.6,466.3 274.2,468.8 273.7,469.2 273.2,470.1 272.8,474.4 272.3,471.8 271.8,475.8 271.4,473.5 270.9,475.2 270.5,475.7 270.0,480.4 269.2,481.1 268.5,477.6 267.8,478.2 267.0,479.9 266.2,480.8 265.5,481.6 264.8,484.0 264.0,486.8 263.5,483.7 263.0,484.4 262.5,489.0 262.0,490.5 261.5,487.8 261.0,488.3 260.5,493.5 260.0,491.2 259.5,491.8 259.0,496.8 258.5,494.1 258.0,495.2 257.5,498.7 257.0,496.9 256.5,497.9 256.0,502.1 255.3,500.0 254.7,500.6 254.0,501.0 253.3,502.0 252.7,503.4 252.0,503.6 251.2,507.4 250.4,505.4 249.6,504.9 248.8,505.7 248.0,507.0 247.2,507.2 246.4,507.9 245.6,508.2 244.8,512.2 244.0,510.0 243.2,513.5 242.4,510.9 241.6,511.7 240.8,511.4 240.0,512.3 239.2,512.5 238.4,513.3 237.6,513.2 236.8,510.1 236.0,508.2 235.2,508.0 234.4,507.3 233.6,506.0 232.8,504.8 232.0,505.1 231.2,505.9 230.4,506.3 229.6,506.8 228.8,507.8 228.0,508.7 227.3,509.9 226.7,509.8 226.0,511.8 225.3,515.9 224.7,515.1 224.0,513.6 223.0,513.3 222.0,516.3 221.0,516.4 220.0,512.9 219.0,514.7 218.0,515.0 217.0,511.2 216.0,513.7 215.0,510.4 214.0,512.4 213.0,512.7 212.0,508.5 211.0,508.0 210.0,508.4 209.0,507.3 208.0,509.3 207.0,506.7 206.0,505.8 205.0,505.9 204.0,505.8 203.0,509.1 202.0,503.6 201.2,505.3 200.3,508.5 199.5,509.1 198.7,507.1 197.8,507.6 197.0,510.8 196.3,509.6 195.6,510.1 194.9,511.6 194.1,511.0 193.4,516.0 192.7,514.4 192.0,515.3 191.1,517.5 190.3,515.9 189.4,515.1 188.6,515.6 187.7,511.7 186.9,511.0 186.0,510.3 185.1,510.0 184.3,509.1 183.4,512.0 182.6,508.2 181.7,507.5 180.9,507.5 180.0,507.0 179.0,506.4 178.0,508.5 177.0,507.6 176.0,504.6 175.0,506.5 174.0,502.7 173.0,502.0 172.0,505.4 171.0,500.9 170.0,503.3 169.2,505.0 168.3,506.1 167.5,506.2 166.7,506.2 165.8,504.3 165.0,508.6 164.3,505.3 163.6,509.6 162.9,511.2 162.1,507.9 161.4,508.5 160.7,509.5 160.0,511.0 159.0,509.7 158.0,510.2 157.0,508.5 156.0,508.8 155.0,508.2 154.0,507.9 153.0,507.0 152.0,506.4 151.0,506.0 150.0,508.8 149.0,505.8 148.0,506.1 147.0,505.2 146.0,505.4 145.0,505.1 144.1,504.7 143.2,503.7 142.4,503.5 141.5,502.3 140.6,502.8 139.8,502.0 138.9,501.7 138.0,501.1 137.0,500.9 136.0,502.5 135.0,501.9 134.0,505.2 133.0,503.8 132.3,504.9 131.6,504.9 130.9,507.9 130.1,506.3 129.4,507.3 128.7,508.6 128.0,508.6 126.9,507.9 125.9,508.0 124.8,507.2 123.8,507.3 122.7,508.7 121.7,506.7 120.6,507.0" fill="#0072B2" fill-opacity="0.2" stroke="#0072B2" stroke-opacity="0.22" stroke-width="2" stroke-linejoin="round"/><g fill="#000" stroke="#000" stroke-width="0.4" stroke-linejoin="round"><polygon points="371.7,222.0 373.7,220.7 378.0,219.0 385.7,218.0 388.3,220.7 389.0,230.0 392.3,235.3 395.0,246.0 395.7,259.3 397.0,264.7 397.0,274.0 395.7,279.3 390.0,280.0 386.3,272.7 384.0,272.0 382.3,274.0 381.7,278.0 378.3,282.0 379.7,286.7 381.7,292.7 379.7,297.3 375.7,298.0 375.0,302.0 376.3,306.0 373.0,308.7 371.0,300.7 372.3,288.7 374.3,275.3 371.0,270.0 372.3,267.3 373.7,260.7 372.3,252.7 375.0,243.3 373.0,232.7"/><polygon points="399.3,349.0 407.3,353.0 409.3,361.0 410.0,371.7 410.7,379.7 409.3,383.7 404.0,387.7 400.0,387.7 394.7,385.0 394.7,379.7 396.7,373.0 395.3,362.3 394.7,355.0"/><polygon points="851.0,365.7 856.8,364.5 858.0,370.3 861.5,361.0 860.3,355.2 862.7,343.5 865.0,338.0 872.0,338.0 876.7,340.0 873.2,347.0 873.2,355.2 869.7,357.5 870.8,364.5 869.7,370.3 873.2,378.5 872.0,384.3 867.3,380.8 863.8,383.2 859.2,390.2 854.5,385.5 853.3,378.5 851.6,375.0"/><polygon points="879.0,266.0 884.0,266.0 884.5,275.0 885.0,283.0 885.0,295.0 885.5,299.0 885.0,300.0 884.0,310.0 880.0,313.0 876.0,312.0 875.5,300.0 876.0,293.0 876.0,283.0 877.0,274.0 878.5,269.0"/><polygon points="891.0,257.0 896.0,257.0 896.5,263.0 897.0,273.0 896.5,284.0 894.0,287.0 894.0,297.0 891.0,301.0 887.0,301.0 886.5,290.0 886.5,275.0 889.0,274.0 890.5,267.0"/><polygon points="873.0,317.0 879.0,315.0 880.0,325.0 878.5,335.0 878.0,340.0 875.0,342.0 872.0,338.0 871.0,330.0 865.0,332.0 866.0,329.0 870.0,320.0"/><polygon points="882.0,308.0 886.0,310.0 889.0,316.0 890.0,326.0 887.0,328.0 883.0,322.0"/><polygon points="885.0,330.0 888.0,333.0 889.0,343.0 886.5,348.0 883.5,344.0 883.5,334.0"/><polygon points="892.5,315.0 894.0,309.0 896.0,313.0 896.0,319.0 901.0,319.0 904.0,316.0 908.4,317.0 909.8,302.0 915.5,299.0 918.3,290.5 919.7,279.2 919.7,267.8 922.6,265.0 922.0,278.0 920.5,299.0 919.7,307.5 918.3,321.7 914.8,324.5 910.0,326.0 905.6,328.0 900.0,334.0 898.0,338.0 895.0,335.0 893.0,325.0"/><polygon points="931.5,223.5 935.2,225.0 935.2,237.0 932.2,247.5 928.5,256.5 922.5,264.0 918.7,264.0 919.5,252.0 920.2,240.0 919.5,231.0 924.7,225.0"/><polygon points="931.8,181.0 941.2,181.0 940.5,196.5 940.8,205.0 938.0,209.0 933.0,210.0"/><polygon points="118.6,469.4 122.2,465.0 125.4,467.0 129.4,467.4 135.8,467.0 139.0,469.0 143.0,467.0 146.2,471.0 149.4,473.0 155.0,473.8 159.8,474.2 164.6,471.0 170.2,469.8 174.2,471.8 179.0,474.2 185.4,476.2 190.0,476.2 194.6,471.6 200.1,469.3 203.7,472.5 208.3,479.8 212.9,479.0 217.5,478.0 223.9,474.3 229.4,468.8 234.0,467.0 236.7,467.9 240.4,472.5 245.0,478.0 247.7,474.3 252.3,461.5 256.0,457.8 259.0,456.0 263.0,454.0 267.0,447.0 272.3,439.0 277.0,431.0 279.0,425.7 279.7,419.0 279.7,411.0 282.3,405.7 283.7,398.3 287.0,399.0 289.0,404.0 291.0,400.0 293.7,393.7 295.7,383.0 299.0,375.0 300.5,370.0 301.0,360.0 301.8,355.8 305.3,348.8 306.1,336.5 307.9,326.0 309.6,315.5 312.3,312.9 314.9,317.3 315.8,322.5 319.3,321.7 321.9,324.3 322.8,333.0 323.6,343.0 327.2,343.0 328.0,336.5 331.5,326.0 333.3,317.3 335.0,312.0 340.3,308.5 342.0,303.3 345.5,287.5 346.4,270.0 348.0,262.0 352.5,262.0 352.5,270.0 351.7,287.5 349.0,305.0 345.5,313.8 344.7,336.5 340.3,341.8 334.0,345.0 331.0,352.0 331.0,359.0 328.0,363.0 328.0,369.0 329.0,378.0 329.0,385.0 327.0,387.0 325.0,385.0 324.0,380.0 322.0,376.0 320.5,366.0 320.0,351.0 316.0,351.0 312.0,349.0 310.0,352.0 309.5,363.0 307.5,370.0 305.0,374.0 304.5,384.0 303.0,392.0 299.0,400.0 299.0,407.0 297.7,417.7 293.7,423.0 289.7,423.0 283.0,424.3 282.3,433.7 283.0,437.7 280.3,447.0 279.0,455.0 275.0,458.0 270.0,461.5 265.2,468.8 259.7,471.6 254.2,478.9 250.5,483.5 246.8,490.8 243.2,489.0 237.7,483.5 234.0,486.2 226.7,485.3 220.2,488.1 216.6,493.6 212.0,496.3 208.3,489.9 203.7,485.3 199.2,483.5 194.6,486.2 191.0,486.2 185.4,486.6 181.4,489.8 175.0,487.8 171.0,480.6 166.2,483.8 163.0,482.2 157.4,484.2 152.6,486.2 148.6,487.8 145.4,484.6 142.2,480.6 138.2,479.0 135.0,482.2 131.0,482.2 124.6,484.2 121.4,482.2 118.6,470.6"/><polygon points="408.0,388.0 410.0,387.0 412.0,395.0 414.7,385.0 417.3,380.3 420.0,383.7 422.0,398.3 425.3,407.7 428.0,416.0 430.0,425.0 434.0,431.0 437.0,430.0 441.0,431.0 445.0,426.0 448.0,429.0 450.0,435.0 454.0,435.0 458.0,439.0 462.0,442.0 466.0,435.0 469.0,429.0 475.0,426.0 480.0,431.0 484.0,434.0 488.0,440.0 492.0,445.0 495.0,444.0 499.0,443.0 504.0,437.0 510.0,441.0 512.0,452.0 517.0,454.0 522.0,460.0 527.0,454.0 531.0,443.0 535.0,433.0 540.0,429.0 544.0,433.0 547.0,432.0 553.0,432.0 558.0,430.0 561.0,414.0 565.0,413.0 567.0,422.0 571.0,428.0 576.0,410.3 582.7,407.7 589.3,410.3 594.7,407.7 601.3,405.0 606.7,401.0 609.3,382.3 612.0,379.7 616.0,373.0 620.0,373.0 621.3,385.0 625.3,394.3 629.3,397.0 630.7,407.7 634.7,415.7 641.3,419.7 646.7,422.3 648.0,417.7 652.0,413.7 656.0,405.7 661.3,404.3 664.0,400.3 668.0,395.0 672.0,388.3 674.0,375.0 678.7,361.7 682.0,358.0 690.0,347.3 696.7,334.0 699.3,322.0 701.0,317.0 707.0,316.0 710.0,319.3 716.7,318.0 721.3,322.0 723.3,328.7 728.7,328.7 732.7,330.0 736.7,328.7 742.0,332.7 747.3,327.3 750.0,307.3 754.0,306.0 756.7,314.0 758.0,324.7 757.7,328.0 755.5,334.7 760.3,336.0 763.0,333.3 767.0,329.3 771.0,334.7 775.0,340.0 779.0,345.3 783.0,349.3 787.0,344.0 792.3,348.0 797.7,350.7 801.0,347.3 805.7,352.0 809.7,356.0 813.7,361.3 817.7,372.0 821.7,376.0 827.0,384.0 831.0,382.7 835.0,386.7 838.2,384.3 845.2,389.0 851.0,390.2 855.1,393.7 853.3,398.3 847.5,401.8 841.7,396.0 835.8,396.0 830.0,399.5 825.7,398.7 821.7,392.0 816.3,386.7 813.7,380.0 811.0,366.7 805.7,362.7 800.3,364.0 792.3,358.7 784.3,358.7 777.7,358.7 773.7,352.0 768.3,356.0 763.0,346.7 759.0,365.3 756.0,359.3 754.7,350.0 752.7,342.0 743.3,346.0 735.3,348.7 727.3,347.3 720.7,351.3 711.3,351.3 711.3,339.3 704.7,336.7 700.7,340.7 697.3,355.0 693.3,365.7 692.0,373.7 688.0,375.0 684.0,381.7 678.7,385.7 676.7,397.7 673.3,405.7 666.7,409.7 666.0,417.7 662.7,417.7 661.3,412.3 655.3,417.7 653.3,429.7 648.0,435.0 644.0,434.3 638.7,431.7 633.3,426.3 628.0,422.3 625.3,410.3 622.7,403.7 618.7,397.0 614.7,403.7 610.7,409.0 608.0,411.7 601.3,418.3 593.3,422.3 588.0,423.7 582.7,422.3 578.7,431.7 572.0,437.0 569.0,437.0 563.0,438.0 557.0,442.0 553.0,448.0 548.0,446.0 543.0,450.0 538.0,450.0 535.0,454.0 531.0,460.0 525.0,467.0 521.0,467.0 515.0,459.0 510.0,459.0 507.0,456.0 501.0,456.0 495.0,462.0 490.0,460.0 487.0,452.0 482.0,450.0 478.0,449.0 476.0,458.0 473.0,460.0 470.0,450.0 466.0,450.0 462.0,456.0 458.0,455.0 454.0,448.0 448.0,449.0 444.0,446.0 438.0,444.0 435.0,451.0 431.0,450.0 428.0,443.0 426.0,440.0 424.0,430.0 422.0,418.0 418.0,418.0 412.0,415.7 410.0,413.0 408.0,402.3"/></g><g fill="#000"><circle cx="373.6" cy="222.7" r="2.5"/><circle cx="376.7" cy="221.3" r="2.5"/><circle cx="380.2" cy="220.6" r="2.5"/><circle cx="383.6" cy="220.2" r="2.5"/><circle cx="385.1" cy="220.7" r="2.5"/><circle cx="386.1" cy="222.8" r="2.5"/><circle cx="386.8" cy="228.2" r="2.5"/><circle cx="388.6" cy="233.4" r="2.5"/><circle cx="391.2" cy="238.9" r="2.5"/><circle cx="392.5" cy="243.7" r="2.5"/><circle cx="393.6" cy="247.9" r="2.5"/><circle cx="393.7" cy="252.5" r="2.5"/><circle cx="393.2" cy="256.8" r="2.5"/><circle cx="394.2" cy="262.8" r="2.5"/><circle cx="394.7" cy="267.1" r="2.5"/><circle cx="395.1" cy="271.5" r="2.5"/><circle cx="394.5" cy="275.7" r="2.5"/><circle cx="392.2" cy="277.4" r="2.5"/><circle cx="391.0" cy="277.2" r="2.5"/><circle cx="388.8" cy="273.7" r="2.5"/><circle cx="385.7" cy="270.2" r="2.5"/><circle cx="381.9" cy="271.9" r="2.5"/><circle cx="379.8" cy="275.8" r="2.5"/><circle cx="378.5" cy="279.1" r="2.5"/><circle cx="377.3" cy="284.7" r="2.5"/><circle cx="379.3" cy="290.0" r="2.5"/><circle cx="378.8" cy="294.5" r="2.5"/><circle cx="377.0" cy="295.7" r="2.5"/><circle cx="372.9" cy="299.8" r="2.5"/><circle cx="374.0" cy="304.7" r="2.5"/><circle cx="373.8" cy="305.6" r="2.5"/><circle cx="374.6" cy="306.3" r="2.5"/><circle cx="373.5" cy="302.2" r="2.5"/><circle cx="373.5" cy="299.4" r="2.5"/><circle cx="373.6" cy="295.1" r="2.5"/><circle cx="373.6" cy="291.1" r="2.5"/><circle cx="374.8" cy="287.3" r="2.5"/><circle cx="375.6" cy="282.1" r="2.5"/><circle cx="375.8" cy="278.0" r="2.5"/><circle cx="373.9" cy="271.6" r="2.5"/><circle cx="373.1" cy="269.1" r="2.5"/><circle cx="374.5" cy="264.7" r="2.5"/><circle cx="374.9" cy="258.1" r="2.5"/><circle cx="374.5" cy="254.7" r="2.5"/><circle cx="374.5" cy="250.9" r="2.5"/><circle cx="376.3" cy="246.6" r="2.5"/><circle cx="376.8" cy="240.6" r="2.5"/><circle cx="375.2" cy="234.9" r="2.5"/><circle cx="374.5" cy="230.2" r="2.5"/><circle cx="374.5" cy="224.1" r="2.5"/><circle cx="400.1" cy="351.5" r="2.5"/><circle cx="404.1" cy="353.8" r="2.5"/><circle cx="405.9" cy="355.2" r="2.5"/><circle cx="406.4" cy="359.4" r="2.5"/><circle cx="407.3" cy="363.9" r="2.5"/><circle cx="408.3" cy="369.3" r="2.5"/><circle cx="408.2" cy="374.0" r="2.5"/><circle cx="408.7" cy="377.4" r="2.5"/><circle cx="408.5" cy="381.3" r="2.5"/><circle cx="405.8" cy="384.4" r="2.5"/><circle cx="401.9" cy="385.6" r="2.5"/><circle cx="397.9" cy="384.7" r="2.5"/><circle cx="396.3" cy="381.9" r="2.5"/><circle cx="396.8" cy="378.3" r="2.5"/><circle cx="398.0" cy="374.8" r="2.5"/><circle cx="397.8" cy="369.7" r="2.5"/><circle cx="397.2" cy="364.6" r="2.5"/><circle cx="396.7" cy="360.7" r="2.5"/><circle cx="397.0" cy="356.3" r="2.5"/><circle cx="397.2" cy="354.6" r="2.5"/><circle cx="399.6" cy="351.3" r="2.5"/><circle cx="854.7" cy="367.6" r="2.5"/><circle cx="855.4" cy="367.8" r="2.5"/><circle cx="860.3" cy="368.3" r="2.5"/><circle cx="862.3" cy="363.8" r="2.5"/><circle cx="863.2" cy="357.4" r="2.5"/><circle cx="862.2" cy="354.1" r="2.5"/><circle cx="863.5" cy="349.4" r="2.5"/><circle cx="864.3" cy="345.4" r="2.5"/><circle cx="865.7" cy="342.0" r="2.5"/><circle cx="867.1" cy="340.2" r="2.5"/><circle cx="870.0" cy="339.9" r="2.5"/><circle cx="873.2" cy="341.1" r="2.5"/><circle cx="874.1" cy="341.1" r="2.5"/><circle cx="872.1" cy="344.1" r="2.5"/><circle cx="871.5" cy="349.5" r="2.5"/><circle cx="871.6" cy="353.5" r="2.5"/><circle cx="870.7" cy="354.9" r="2.5"/><circle cx="867.7" cy="359.6" r="2.5"/><circle cx="868.4" cy="362.6" r="2.5"/><circle cx="867.8" cy="366.8" r="2.5"/><circle cx="868.5" cy="373.3" r="2.5"/><circle cx="870.9" cy="377.2" r="2.5"/><circle cx="871.1" cy="381.5" r="2.5"/><circle cx="871.3" cy="380.8" r="2.5"/><circle cx="864.1" cy="380.1" r="2.5"/><circle cx="860.7" cy="383.6" r="2.5"/><circle cx="858.8" cy="387.8" r="2.5"/><circle cx="858.6" cy="386.4" r="2.5"/><circle cx="856.3" cy="383.7" r="2.5"/><circle cx="855.2" cy="380.1" r="2.5"/><circle cx="854.7" cy="376.2" r="2.5"/><circle cx="853.7" cy="372.5" r="2.5"/><circle cx="852.8" cy="368.2" r="2.5"/><circle cx="881.3" cy="268.3" r="2.5"/><circle cx="882.6" cy="268.3" r="2.5"/><circle cx="882.3" cy="273.3" r="2.5"/><circle cx="882.9" cy="276.8" r="2.5"/><circle cx="882.5" cy="280.8" r="2.5"/><circle cx="883.4" cy="285.3" r="2.5"/><circle cx="882.6" cy="289.3" r="2.5"/><circle cx="883.5" cy="293.2" r="2.5"/><circle cx="883.1" cy="297.3" r="2.5"/><circle cx="883.1" cy="298.1" r="2.5"/><circle cx="883.2" cy="302.5" r="2.5"/><circle cx="882.3" cy="307.7" r="2.5"/><circle cx="880.7" cy="310.3" r="2.5"/><circle cx="878.8" cy="310.3" r="2.5"/><circle cx="877.7" cy="309.7" r="2.5"/><circle cx="877.5" cy="306.0" r="2.5"/><circle cx="877.3" cy="301.8" r="2.5"/><circle cx="877.3" cy="298.8" r="2.5"/><circle cx="877.7" cy="294.9" r="2.5"/><circle cx="878.1" cy="290.9" r="2.5"/><circle cx="877.9" cy="285.9" r="2.5"/><circle cx="878.2" cy="281.0" r="2.5"/><circle cx="878.8" cy="276.0" r="2.5"/><circle cx="879.6" cy="271.8" r="2.5"/><circle cx="880.2" cy="268.1" r="2.5"/><circle cx="893.2" cy="259.0" r="2.5"/><circle cx="894.5" cy="260.2" r="2.5"/><circle cx="894.5" cy="265.6" r="2.5"/><circle cx="894.9" cy="270.9" r="2.5"/><circle cx="894.5" cy="275.7" r="2.5"/><circle cx="894.4" cy="280.9" r="2.5"/><circle cx="894.0" cy="284.2" r="2.5"/><circle cx="892.1" cy="289.8" r="2.5"/><circle cx="892.4" cy="294.4" r="2.5"/><circle cx="891.0" cy="297.8" r="2.5"/><circle cx="889.0" cy="299.2" r="2.5"/><circle cx="888.8" cy="298.2" r="2.5"/><circle cx="888.6" cy="293.1" r="2.5"/><circle cx="888.7" cy="287.9" r="2.5"/><circle cx="888.9" cy="282.3" r="2.5"/><circle cx="888.6" cy="277.9" r="2.5"/><circle cx="888.8" cy="276.0" r="2.5"/><circle cx="891.0" cy="272.6" r="2.5"/><circle cx="891.7" cy="268.9" r="2.5"/><circle cx="892.2" cy="264.8" r="2.5"/><circle cx="893.2" cy="260.0" r="2.5"/><circle cx="876.3" cy="318.1" r="2.5"/><circle cx="877.4" cy="317.3" r="2.5"/><circle cx="878.1" cy="323.2" r="2.5"/><circle cx="877.4" cy="327.7" r="2.5"/><circle cx="876.8" cy="332.2" r="2.5"/><circle cx="876.7" cy="337.6" r="2.5"/><circle cx="875.1" cy="339.3" r="2.5"/><circle cx="875.1" cy="338.6" r="2.5"/><circle cx="873.4" cy="335.6" r="2.5"/><circle cx="873.5" cy="331.3" r="2.5"/><circle cx="867.4" cy="329.0" r="2.5"/><circle cx="866.9" cy="331.0" r="2.5"/><circle cx="869.0" cy="327.6" r="2.5"/><circle cx="870.4" cy="323.5" r="2.5"/><circle cx="873.2" cy="320.4" r="2.5"/><circle cx="882.7" cy="310.6" r="2.5"/><circle cx="885.3" cy="314.2" r="2.5"/><circle cx="887.0" cy="318.3" r="2.5"/><circle cx="887.7" cy="324.1" r="2.5"/><circle cx="887.7" cy="325.1" r="2.5"/><circle cx="887.3" cy="325.8" r="2.5"/><circle cx="885.7" cy="322.6" r="2.5"/><circle cx="884.4" cy="319.1" r="2.5"/><circle cx="884.7" cy="314.8" r="2.5"/><circle cx="883.7" cy="310.6" r="2.5"/><circle cx="885.2" cy="333.2" r="2.5"/><circle cx="885.8" cy="336.1" r="2.5"/><circle cx="886.3" cy="341.1" r="2.5"/><circle cx="885.9" cy="344.4" r="2.5"/><circle cx="886.7" cy="345.2" r="2.5"/><circle cx="885.3" cy="341.1" r="2.5"/><circle cx="885.5" cy="336.2" r="2.5"/><circle cx="885.7" cy="332.4" r="2.5"/><circle cx="894.7" cy="312.2" r="2.5"/><circle cx="893.0" cy="311.7" r="2.5"/><circle cx="894.3" cy="315.8" r="2.5"/><circle cx="898.5" cy="320.7" r="2.5"/><circle cx="903.8" cy="318.4" r="2.5"/><circle cx="905.5" cy="318.0" r="2.5"/><circle cx="910.9" cy="314.7" r="2.5"/><circle cx="910.8" cy="309.7" r="2.5"/><circle cx="912.0" cy="304.3" r="2.5"/><circle cx="913.9" cy="302.2" r="2.5"/><circle cx="918.1" cy="297.8" r="2.5"/><circle cx="919.4" cy="293.3" r="2.5"/><circle cx="920.7" cy="289.3" r="2.5"/><circle cx="920.8" cy="285.4" r="2.5"/><circle cx="921.7" cy="281.5" r="2.5"/><circle cx="921.6" cy="277.1" r="2.5"/><circle cx="921.3" cy="273.1" r="2.5"/><circle cx="921.3" cy="269.9" r="2.5"/><circle cx="922.3" cy="267.5" r="2.5"/><circle cx="920.1" cy="267.4" r="2.5"/><circle cx="920.7" cy="271.6" r="2.5"/><circle cx="919.9" cy="275.5" r="2.5"/><circle cx="919.6" cy="279.9" r="2.5"/><circle cx="919.2" cy="284.1" r="2.5"/><circle cx="919.0" cy="288.8" r="2.5"/><circle cx="919.4" cy="292.6" r="2.5"/><circle cx="918.4" cy="297.2" r="2.5"/><circle cx="918.1" cy="300.8" r="2.5"/><circle cx="917.4" cy="305.1" r="2.5"/><circle cx="917.5" cy="309.7" r="2.5"/><circle cx="916.7" cy="314.4" r="2.5"/><circle cx="916.0" cy="318.9" r="2.5"/><circle cx="914.9" cy="321.4" r="2.5"/><circle cx="911.3" cy="322.9" r="2.5"/><circle cx="906.8" cy="324.9" r="2.5"/><circle cx="902.8" cy="328.2" r="2.5"/><circle cx="900.2" cy="331.3" r="2.5"/><circle cx="897.4" cy="335.5" r="2.5"/><circle cx="897.8" cy="334.9" r="2.5"/><circle cx="896.9" cy="331.8" r="2.5"/><circle cx="895.7" cy="327.3" r="2.5"/><circle cx="894.4" cy="322.7" r="2.5"/><circle cx="895.0" cy="317.5" r="2.5"/><circle cx="932.8" cy="226.4" r="2.5"/><circle cx="932.8" cy="227.0" r="2.5"/><circle cx="933.2" cy="231.3" r="2.5"/><circle cx="933.5" cy="235.3" r="2.5"/><circle cx="932.6" cy="239.5" r="2.5"/><circle cx="931.2" cy="244.5" r="2.5"/><circle cx="929.2" cy="248.5" r="2.5"/><circle cx="927.2" cy="253.4" r="2.5"/><circle cx="925.0" cy="257.5" r="2.5"/><circle cx="922.5" cy="261.0" r="2.5"/><circle cx="920.7" cy="262.2" r="2.5"/><circle cx="920.8" cy="261.6" r="2.5"/><circle cx="921.4" cy="258.4" r="2.5"/><circle cx="921.4" cy="254.2" r="2.5"/><circle cx="921.8" cy="249.7" r="2.5"/><circle cx="922.1" cy="245.9" r="2.5"/><circle cx="921.7" cy="241.9" r="2.5"/><circle cx="922.2" cy="237.3" r="2.5"/><circle cx="921.9" cy="233.6" r="2.5"/><circle cx="922.3" cy="230.7" r="2.5"/><circle cx="924.9" cy="228.0" r="2.5"/><circle cx="927.1" cy="226.7" r="2.5"/><circle cx="930.4" cy="225.4" r="2.5"/><circle cx="933.8" cy="182.8" r="2.5"/><circle cx="939.1" cy="182.8" r="2.5"/><circle cx="939.2" cy="183.0" r="2.5"/><circle cx="938.4" cy="188.4" r="2.5"/><circle cx="938.8" cy="194.0" r="2.5"/><circle cx="938.8" cy="198.5" r="2.5"/><circle cx="938.7" cy="202.9" r="2.5"/><circle cx="937.7" cy="205.5" r="2.5"/><circle cx="935.5" cy="207.2" r="2.5"/><circle cx="935.4" cy="207.9" r="2.5"/><circle cx="934.2" cy="202.6" r="2.5"/><circle cx="934.8" cy="198.3" r="2.5"/><circle cx="934.2" cy="192.8" r="2.5"/><circle cx="933.8" cy="188.6" r="2.5"/><circle cx="933.6" cy="183.4" r="2.5"/><circle cx="121.6" cy="468.5" r="2.5"/><circle cx="123.2" cy="467.3" r="2.5"/><circle cx="127.5" cy="469.2" r="2.5"/><circle cx="133.1" cy="469.4" r="2.5"/><circle cx="136.1" cy="470.1" r="2.5"/><circle cx="141.9" cy="469.3" r="2.5"/><circle cx="142.5" cy="470.2" r="2.5"/><circle cx="146.7" cy="473.5" r="2.5"/><circle cx="151.6" cy="475.2" r="2.5"/><circle cx="157.0" cy="476.3" r="2.5"/><circle cx="162.8" cy="474.5" r="2.5"/><circle cx="168.2" cy="472.0" r="2.5"/><circle cx="171.7" cy="472.8" r="2.5"/><circle cx="176.1" cy="474.6" r="2.5"/><circle cx="181.5" cy="477.0" r="2.5"/><circle cx="188.2" cy="478.3" r="2.5"/><circle cx="193.6" cy="475.2" r="2.5"/><circle cx="197.9" cy="471.8" r="2.5"/><circle cx="200.2" cy="472.7" r="2.5"/><circle cx="202.9" cy="475.8" r="2.5"/><circle cx="205.2" cy="478.8" r="2.5"/><circle cx="211.0" cy="481.1" r="2.5"/><circle cx="215.5" cy="480.9" r="2.5"/><circle cx="220.5" cy="479.1" r="2.5"/><circle cx="223.4" cy="477.4" r="2.5"/><circle cx="227.1" cy="474.4" r="2.5"/><circle cx="229.7" cy="471.1" r="2.5"/><circle cx="232.7" cy="469.7" r="2.5"/><circle cx="235.0" cy="469.5" r="2.5"/><circle cx="236.8" cy="471.0" r="2.5"/><circle cx="240.4" cy="474.8" r="2.5"/><circle cx="242.3" cy="477.8" r="2.5"/><circle cx="247.8" cy="477.6" r="2.5"/><circle cx="250.8" cy="472.6" r="2.5"/><circle cx="252.0" cy="468.4" r="2.5"/><circle cx="253.5" cy="464.2" r="2.5"/><circle cx="255.2" cy="460.7" r="2.5"/><circle cx="258.2" cy="459.0" r="2.5"/><circle cx="261.9" cy="456.5" r="2.5"/><circle cx="266.1" cy="453.7" r="2.5"/><circle cx="267.7" cy="449.4" r="2.5"/><circle cx="269.7" cy="445.7" r="2.5"/><circle cx="272.5" cy="441.7" r="2.5"/><circle cx="274.9" cy="437.8" r="2.5"/><circle cx="277.6" cy="434.4" r="2.5"/><circle cx="280.1" cy="429.0" r="2.5"/><circle cx="281.3" cy="422.6" r="2.5"/><circle cx="281.6" cy="416.8" r="2.5"/><circle cx="281.3" cy="412.8" r="2.5"/><circle cx="283.3" cy="408.9" r="2.5"/><circle cx="284.6" cy="404.4" r="2.5"/><circle cx="285.7" cy="400.2" r="2.5"/><circle cx="284.7" cy="400.4" r="2.5"/><circle cx="286.0" cy="402.2" r="2.5"/><circle cx="292.2" cy="403.2" r="2.5"/><circle cx="293.9" cy="398.7" r="2.5"/><circle cx="294.4" cy="396.3" r="2.5"/><circle cx="296.6" cy="391.4" r="2.5"/><circle cx="297.3" cy="385.5" r="2.5"/><circle cx="298.3" cy="382.2" r="2.5"/><circle cx="300.3" cy="378.1" r="2.5"/><circle cx="302.1" cy="372.8" r="2.5"/><circle cx="302.2" cy="367.3" r="2.5"/><circle cx="302.9" cy="362.8" r="2.5"/><circle cx="303.8" cy="358.5" r="2.5"/><circle cx="304.6" cy="355.2" r="2.5"/><circle cx="306.2" cy="351.5" r="2.5"/><circle cx="307.0" cy="347.2" r="2.5"/><circle cx="307.4" cy="343.2" r="2.5"/><circle cx="308.1" cy="338.5" r="2.5"/><circle cx="308.1" cy="334.0" r="2.5"/><circle cx="309.6" cy="329.2" r="2.5"/><circle cx="309.9" cy="323.3" r="2.5"/><circle cx="311.2" cy="318.5" r="2.5"/><circle cx="312.2" cy="315.4" r="2.5"/><circle cx="312.0" cy="315.6" r="2.5"/><circle cx="313.2" cy="320.2" r="2.5"/><circle cx="318.5" cy="324.2" r="2.5"/><circle cx="319.6" cy="324.4" r="2.5"/><circle cx="319.9" cy="326.4" r="2.5"/><circle cx="321.0" cy="331.2" r="2.5"/><circle cx="320.8" cy="335.2" r="2.5"/><circle cx="321.4" cy="340.8" r="2.5"/><circle cx="325.3" cy="344.8" r="2.5"/><circle cx="329.8" cy="340.4" r="2.5"/><circle cx="330.5" cy="334.0" r="2.5"/><circle cx="332.4" cy="329.2" r="2.5"/><circle cx="334.1" cy="323.9" r="2.5"/><circle cx="335.1" cy="320.1" r="2.5"/><circle cx="336.1" cy="315.0" r="2.5"/><circle cx="339.2" cy="311.7" r="2.5"/><circle cx="343.4" cy="306.3" r="2.5"/><circle cx="344.1" cy="302.0" r="2.5"/><circle cx="345.1" cy="298.3" r="2.5"/><circle cx="346.1" cy="293.5" r="2.5"/><circle cx="346.7" cy="289.8" r="2.5"/><circle cx="347.8" cy="285.9" r="2.5"/><circle cx="347.5" cy="280.9" r="2.5"/><circle cx="347.8" cy="277.1" r="2.5"/><circle cx="347.9" cy="271.8" r="2.5"/><circle cx="348.3" cy="268.3" r="2.5"/><circle cx="350.0" cy="264.8" r="2.5"/><circle cx="350.5" cy="264.5" r="2.5"/><circle cx="350.9" cy="263.8" r="2.5"/><circle cx="350.2" cy="268.4" r="2.5"/><circle cx="350.6" cy="271.6" r="2.5"/><circle cx="350.4" cy="276.3" r="2.5"/><circle cx="349.9" cy="280.7" r="2.5"/><circle cx="349.5" cy="284.7" r="2.5"/><circle cx="349.2" cy="289.2" r="2.5"/><circle cx="349.2" cy="293.4" r="2.5"/><circle cx="348.5" cy="297.8" r="2.5"/><circle cx="347.2" cy="302.8" r="2.5"/><circle cx="346.6" cy="306.4" r="2.5"/><circle cx="344.1" cy="310.8" r="2.5"/><circle cx="343.3" cy="316.4" r="2.5"/><circle cx="343.0" cy="320.4" r="2.5"/><circle cx="343.5" cy="324.6" r="2.5"/><circle cx="342.9" cy="329.9" r="2.5"/><circle cx="343.0" cy="333.7" r="2.5"/><circle cx="341.6" cy="336.1" r="2.5"/><circle cx="340.3" cy="339.0" r="2.5"/><circle cx="338.1" cy="341.2" r="2.5"/><circle cx="334.5" cy="342.2" r="2.5"/><circle cx="331.9" cy="346.1" r="2.5"/><circle cx="329.7" cy="349.7" r="2.5"/><circle cx="328.8" cy="353.5" r="2.5"/><circle cx="328.5" cy="357.5" r="2.5"/><circle cx="328.3" cy="359.9" r="2.5"/><circle cx="326.4" cy="365.5" r="2.5"/><circle cx="326.0" cy="371.4" r="2.5"/><circle cx="327.2" cy="376.4" r="2.5"/><circle cx="326.9" cy="379.5" r="2.5"/><circle cx="326.9" cy="383.2" r="2.5"/><circle cx="327.0" cy="384.3" r="2.5"/><circle cx="327.7" cy="384.8" r="2.5"/><circle cx="326.8" cy="382.4" r="2.5"/><circle cx="324.9" cy="376.9" r="2.5"/><circle cx="323.4" cy="373.1" r="2.5"/><circle cx="323.1" cy="367.8" r="2.5"/><circle cx="322.1" cy="363.7" r="2.5"/><circle cx="322.0" cy="358.0" r="2.5"/><circle cx="321.6" cy="353.5" r="2.5"/><circle cx="317.8" cy="349.5" r="2.5"/><circle cx="315.3" cy="348.7" r="2.5"/><circle cx="309.1" cy="349.0" r="2.5"/><circle cx="307.5" cy="354.7" r="2.5"/><circle cx="307.8" cy="360.1" r="2.5"/><circle cx="306.8" cy="364.1" r="2.5"/><circle cx="306.2" cy="367.9" r="2.5"/><circle cx="304.8" cy="371.3" r="2.5"/><circle cx="303.0" cy="376.0" r="2.5"/><circle cx="303.0" cy="381.2" r="2.5"/><circle cx="302.2" cy="385.5" r="2.5"/><circle cx="301.6" cy="389.3" r="2.5"/><circle cx="300.0" cy="392.9" r="2.5"/><circle cx="297.9" cy="397.5" r="2.5"/><circle cx="297.1" cy="401.6" r="2.5"/><circle cx="296.9" cy="405.7" r="2.5"/><circle cx="296.7" cy="409.2" r="2.5"/><circle cx="296.3" cy="414.9" r="2.5"/><circle cx="294.6" cy="418.7" r="2.5"/><circle cx="291.7" cy="421.3" r="2.5"/><circle cx="288.0" cy="421.8" r="2.5"/><circle cx="283.8" cy="421.8" r="2.5"/><circle cx="280.4" cy="426.2" r="2.5"/><circle cx="281.0" cy="431.3" r="2.5"/><circle cx="281.1" cy="435.9" r="2.5"/><circle cx="280.8" cy="439.4" r="2.5"/><circle cx="278.8" cy="444.4" r="2.5"/><circle cx="278.4" cy="448.3" r="2.5"/><circle cx="277.4" cy="452.8" r="2.5"/><circle cx="275.5" cy="454.8" r="2.5"/><circle cx="271.0" cy="457.8" r="2.5"/><circle cx="266.9" cy="462.3" r="2.5"/><circle cx="264.9" cy="465.6" r="2.5"/><circle cx="261.1" cy="468.2" r="2.5"/><circle cx="256.9" cy="471.9" r="2.5"/><circle cx="253.8" cy="475.6" r="2.5"/><circle cx="251.1" cy="480.0" r="2.5"/><circle cx="247.4" cy="484.0" r="2.5"/><circle cx="245.8" cy="488.1" r="2.5"/><circle cx="246.0" cy="487.7" r="2.5"/><circle cx="242.9" cy="486.4" r="2.5"/><circle cx="240.4" cy="483.2" r="2.5"/><circle cx="234.5" cy="483.7" r="2.5"/><circle cx="232.2" cy="484.1" r="2.5"/><circle cx="228.6" cy="483.5" r="2.5"/><circle cx="224.6" cy="484.7" r="2.5"/><circle cx="220.9" cy="485.3" r="2.5"/><circle cx="217.0" cy="489.5" r="2.5"/><circle cx="212.8" cy="493.6" r="2.5"/><circle cx="212.7" cy="494.0" r="2.5"/><circle cx="210.9" cy="490.9" r="2.5"/><circle cx="207.4" cy="485.8" r="2.5"/><circle cx="201.7" cy="482.6" r="2.5"/><circle cx="196.0" cy="483.5" r="2.5"/><circle cx="192.4" cy="484.3" r="2.5"/><circle cx="187.9" cy="484.4" r="2.5"/><circle cx="181.8" cy="486.4" r="2.5"/><circle cx="178.8" cy="487.3" r="2.5"/><circle cx="175.4" cy="485.0" r="2.5"/><circle cx="174.1" cy="481.9" r="2.5"/><circle cx="167.2" cy="480.2" r="2.5"/><circle cx="165.9" cy="481.7" r="2.5"/><circle cx="159.5" cy="480.9" r="2.5"/><circle cx="154.7" cy="483.2" r="2.5"/><circle cx="150.3" cy="485.3" r="2.5"/><circle cx="148.7" cy="484.4" r="2.5"/><circle cx="145.6" cy="481.1" r="2.5"/><circle cx="140.8" cy="478.3" r="2.5"/><circle cx="135.5" cy="478.9" r="2.5"/><circle cx="132.7" cy="480.1" r="2.5"/><circle cx="127.2" cy="481.2" r="2.5"/><circle cx="123.7" cy="481.3" r="2.5"/><circle cx="123.1" cy="480.2" r="2.5"/><circle cx="121.5" cy="476.0" r="2.5"/><circle cx="121.3" cy="471.6" r="2.5"/><circle cx="120.9" cy="469.6" r="2.5"/><circle cx="410.0" cy="389.3" r="2.5"/><circle cx="408.7" cy="389.3" r="2.5"/><circle cx="409.5" cy="393.6" r="2.5"/><circle cx="414.5" cy="393.2" r="2.5"/><circle cx="415.9" cy="388.0" r="2.5"/><circle cx="417.3" cy="383.7" r="2.5"/><circle cx="417.1" cy="383.0" r="2.5"/><circle cx="418.6" cy="386.7" r="2.5"/><circle cx="419.0" cy="391.0" r="2.5"/><circle cx="419.7" cy="395.7" r="2.5"/><circle cx="420.6" cy="401.2" r="2.5"/><circle cx="422.2" cy="406.0" r="2.5"/><circle cx="424.1" cy="409.9" r="2.5"/><circle cx="425.6" cy="414.1" r="2.5"/><circle cx="426.8" cy="419.0" r="2.5"/><circle cx="427.6" cy="422.7" r="2.5"/><circle cx="429.3" cy="427.5" r="2.5"/><circle cx="431.8" cy="430.2" r="2.5"/><circle cx="436.5" cy="432.9" r="2.5"/><circle cx="438.7" cy="432.8" r="2.5"/><circle cx="444.3" cy="430.2" r="2.5"/><circle cx="445.1" cy="429.4" r="2.5"/><circle cx="447.5" cy="432.3" r="2.5"/><circle cx="452.3" cy="437.4" r="2.5"/><circle cx="454.2" cy="438.3" r="2.5"/><circle cx="459.1" cy="441.8" r="2.5"/><circle cx="465.1" cy="441.0" r="2.5"/><circle cx="467.1" cy="437.4" r="2.5"/><circle cx="469.3" cy="433.3" r="2.5"/><circle cx="472.6" cy="429.1" r="2.5"/><circle cx="474.8" cy="428.5" r="2.5"/><circle cx="476.9" cy="430.8" r="2.5"/><circle cx="480.5" cy="434.5" r="2.5"/><circle cx="483.5" cy="437.0" r="2.5"/><circle cx="485.0" cy="439.9" r="2.5"/><circle cx="488.1" cy="443.8" r="2.5"/><circle cx="494.3" cy="446.3" r="2.5"/><circle cx="497.9" cy="445.5" r="2.5"/><circle cx="501.9" cy="443.2" r="2.5"/><circle cx="503.9" cy="440.3" r="2.5"/><circle cx="504.5" cy="439.6" r="2.5"/><circle cx="507.7" cy="441.4" r="2.5"/><circle cx="509.0" cy="444.2" r="2.5"/><circle cx="509.4" cy="449.9" r="2.5"/><circle cx="513.7" cy="454.5" r="2.5"/><circle cx="517.0" cy="456.3" r="2.5"/><circle cx="519.5" cy="459.5" r="2.5"/><circle cx="524.9" cy="460.3" r="2.5"/><circle cx="527.4" cy="456.9" r="2.5"/><circle cx="529.4" cy="452.4" r="2.5"/><circle cx="530.4" cy="448.8" r="2.5"/><circle cx="532.3" cy="445.4" r="2.5"/><circle cx="533.9" cy="441.6" r="2.5"/><circle cx="535.5" cy="436.0" r="2.5"/><circle cx="538.9" cy="432.1" r="2.5"/><circle cx="540.1" cy="432.3" r="2.5"/><circle cx="545.7" cy="434.3" r="2.5"/><circle cx="549.7" cy="434.1" r="2.5"/><circle cx="556.3" cy="432.6" r="2.5"/><circle cx="560.5" cy="428.3" r="2.5"/><circle cx="560.7" cy="424.8" r="2.5"/><circle cx="561.6" cy="420.0" r="2.5"/><circle cx="562.2" cy="416.5" r="2.5"/><circle cx="563.9" cy="415.7" r="2.5"/><circle cx="563.4" cy="415.4" r="2.5"/><circle cx="564.1" cy="420.3" r="2.5"/><circle cx="566.4" cy="424.5" r="2.5"/><circle cx="568.5" cy="427.6" r="2.5"/><circle cx="574.0" cy="426.6" r="2.5"/><circle cx="574.5" cy="422.3" r="2.5"/><circle cx="575.6" cy="417.5" r="2.5"/><circle cx="577.2" cy="412.8" r="2.5"/><circle cx="578.0" cy="411.8" r="2.5"/><circle cx="581.3" cy="410.3" r="2.5"/><circle cx="584.1" cy="409.9" r="2.5"/><circle cx="586.6" cy="411.6" r="2.5"/><circle cx="592.9" cy="410.9" r="2.5"/><circle cx="597.4" cy="408.6" r="2.5"/><circle cx="600.2" cy="407.3" r="2.5"/><circle cx="604.7" cy="405.0" r="2.5"/><circle cx="609.3" cy="399.2" r="2.5"/><circle cx="609.2" cy="394.6" r="2.5"/><circle cx="610.6" cy="389.6" r="2.5"/><circle cx="611.2" cy="384.9" r="2.5"/><circle cx="611.8" cy="382.0" r="2.5"/><circle cx="614.4" cy="378.6" r="2.5"/><circle cx="616.6" cy="375.9" r="2.5"/><circle cx="618.2" cy="375.3" r="2.5"/><circle cx="618.4" cy="375.0" r="2.5"/><circle cx="618.7" cy="379.2" r="2.5"/><circle cx="619.4" cy="383.2" r="2.5"/><circle cx="620.2" cy="388.3" r="2.5"/><circle cx="622.9" cy="392.5" r="2.5"/><circle cx="626.6" cy="396.8" r="2.5"/><circle cx="627.4" cy="399.7" r="2.5"/><circle cx="628.6" cy="405.7" r="2.5"/><circle cx="630.2" cy="410.4" r="2.5"/><circle cx="632.3" cy="414.4" r="2.5"/><circle cx="635.1" cy="418.8" r="2.5"/><circle cx="638.7" cy="420.6" r="2.5"/><circle cx="643.3" cy="423.3" r="2.5"/><circle cx="649.2" cy="420.9" r="2.5"/><circle cx="651.6" cy="417.5" r="2.5"/><circle cx="654.7" cy="412.8" r="2.5"/><circle cx="656.9" cy="408.4" r="2.5"/><circle cx="658.9" cy="407.1" r="2.5"/><circle cx="663.9" cy="403.8" r="2.5"/><circle cx="667.2" cy="398.4" r="2.5"/><circle cx="670.3" cy="394.8" r="2.5"/><circle cx="672.6" cy="390.6" r="2.5"/><circle cx="673.8" cy="385.9" r="2.5"/><circle cx="675.2" cy="382.1" r="2.5"/><circle cx="675.8" cy="377.8" r="2.5"/><circle cx="676.2" cy="373.5" r="2.5"/><circle cx="678.1" cy="369.3" r="2.5"/><circle cx="680.1" cy="365.0" r="2.5"/><circle cx="681.4" cy="361.5" r="2.5"/><circle cx="685.3" cy="357.9" r="2.5"/><circle cx="687.2" cy="353.6" r="2.5"/><circle cx="689.9" cy="349.8" r="2.5"/><circle cx="693.3" cy="346.3" r="2.5"/><circle cx="695.3" cy="341.9" r="2.5"/><circle cx="697.5" cy="336.9" r="2.5"/><circle cx="698.7" cy="332.0" r="2.5"/><circle cx="700.2" cy="328.1" r="2.5"/><circle cx="700.6" cy="324.3" r="2.5"/><circle cx="701.6" cy="319.9" r="2.5"/><circle cx="704.1" cy="318.7" r="2.5"/><circle cx="706.9" cy="318.8" r="2.5"/><circle cx="712.5" cy="320.9" r="2.5"/><circle cx="715.8" cy="320.4" r="2.5"/><circle cx="717.2" cy="321.4" r="2.5"/><circle cx="719.8" cy="324.5" r="2.5"/><circle cx="720.7" cy="327.8" r="2.5"/><circle cx="726.0" cy="330.4" r="2.5"/><circle cx="730.4" cy="330.8" r="2.5"/><circle cx="735.6" cy="330.9" r="2.5"/><circle cx="737.6" cy="332.0" r="2.5"/><circle cx="745.0" cy="333.2" r="2.5"/><circle cx="746.9" cy="330.0" r="2.5"/><circle cx="749.6" cy="325.4" r="2.5"/><circle cx="750.0" cy="320.1" r="2.5"/><circle cx="750.8" cy="315.4" r="2.5"/><circle cx="751.4" cy="310.5" r="2.5"/><circle cx="752.4" cy="308.3" r="2.5"/><circle cx="753.0" cy="308.6" r="2.5"/><circle cx="753.7" cy="312.8" r="2.5"/><circle cx="754.6" cy="317.2" r="2.5"/><circle cx="755.9" cy="322.6" r="2.5"/><circle cx="756.0" cy="326.0" r="2.5"/><circle cx="755.2" cy="328.9" r="2.5"/><circle cx="754.5" cy="332.0" r="2.5"/><circle cx="757.8" cy="336.8" r="2.5"/><circle cx="762.8" cy="335.8" r="2.5"/><circle cx="766.8" cy="332.7" r="2.5"/><circle cx="767.3" cy="333.6" r="2.5"/><circle cx="771.1" cy="338.5" r="2.5"/><circle cx="775.4" cy="344.1" r="2.5"/><circle cx="779.8" cy="348.9" r="2.5"/><circle cx="786.4" cy="347.7" r="2.5"/><circle cx="788.1" cy="347.9" r="2.5"/><circle cx="794.3" cy="351.4" r="2.5"/><circle cx="800.5" cy="350.3" r="2.5"/><circle cx="802.2" cy="351.1" r="2.5"/><circle cx="805.9" cy="355.4" r="2.5"/><circle cx="810.5" cy="359.6" r="2.5"/><circle cx="812.2" cy="363.6" r="2.5"/><circle cx="814.0" cy="367.7" r="2.5"/><circle cx="814.8" cy="370.6" r="2.5"/><circle cx="818.0" cy="375.2" r="2.5"/><circle cx="821.4" cy="378.8" r="2.5"/><circle cx="823.8" cy="382.8" r="2.5"/><circle cx="830.1" cy="385.5" r="2.5"/><circle cx="831.2" cy="386.6" r="2.5"/><circle cx="837.4" cy="387.0" r="2.5"/><circle cx="839.3" cy="387.4" r="2.5"/><circle cx="842.6" cy="389.4" r="2.5"/><circle cx="847.4" cy="391.7" r="2.5"/><circle cx="851.4" cy="393.2" r="2.5"/><circle cx="852.2" cy="394.8" r="2.5"/><circle cx="850.7" cy="397.8" r="2.5"/><circle cx="848.1" cy="399.2" r="2.5"/><circle cx="847.6" cy="398.9" r="2.5"/><circle cx="844.2" cy="396.1" r="2.5"/><circle cx="838.7" cy="394.2" r="2.5"/><circle cx="833.7" cy="395.1" r="2.5"/><circle cx="830.5" cy="397.2" r="2.5"/><circle cx="828.1" cy="396.9" r="2.5"/><circle cx="826.6" cy="396.4" r="2.5"/><circle cx="824.7" cy="392.8" r="2.5"/><circle cx="822.1" cy="389.4" r="2.5"/><circle cx="819.2" cy="386.6" r="2.5"/><circle cx="817.3" cy="384.4" r="2.5"/><circle cx="815.8" cy="380.9" r="2.5"/><circle cx="815.5" cy="377.6" r="2.5"/><circle cx="814.4" cy="372.7" r="2.5"/><circle cx="813.3" cy="368.5" r="2.5"/><circle cx="809.7" cy="363.0" r="2.5"/><circle cx="802.7" cy="361.8" r="2.5"/><circle cx="799.1" cy="361.2" r="2.5"/><circle cx="795.7" cy="358.2" r="2.5"/><circle cx="790.3" cy="357.2" r="2.5"/><circle cx="785.8" cy="356.7" r="2.5"/><circle cx="780.7" cy="357.0" r="2.5"/><circle cx="778.9" cy="356.0" r="2.5"/><circle cx="776.0" cy="352.7" r="2.5"/><circle cx="769.9" cy="352.6" r="2.5"/><circle cx="768.7" cy="352.8" r="2.5"/><circle cx="766.4" cy="348.1" r="2.5"/><circle cx="760.5" cy="349.1" r="2.5"/><circle cx="759.3" cy="353.4" r="2.5"/><circle cx="758.4" cy="358.2" r="2.5"/><circle cx="757.2" cy="363.0" r="2.5"/><circle cx="759.1" cy="361.0" r="2.5"/><circle cx="757.4" cy="356.6" r="2.5"/><circle cx="756.5" cy="352.0" r="2.5"/><circle cx="756.1" cy="347.7" r="2.5"/><circle cx="755.0" cy="343.3" r="2.5"/><circle cx="749.3" cy="341.4" r="2.5"/><circle cx="745.3" cy="343.2" r="2.5"/><circle cx="740.4" cy="345.1" r="2.5"/><circle cx="736.6" cy="345.8" r="2.5"/><circle cx="733.3" cy="346.7" r="2.5"/><circle cx="730.0" cy="345.8" r="2.5"/><circle cx="724.6" cy="346.7" r="2.5"/><circle cx="721.0" cy="349.1" r="2.5"/><circle cx="718.2" cy="349.4" r="2.5"/><circle cx="714.0" cy="349.6" r="2.5"/><circle cx="713.3" cy="349.1" r="2.5"/><circle cx="713.3" cy="344.9" r="2.5"/><circle cx="713.6" cy="341.2" r="2.5"/><circle cx="710.7" cy="336.6" r="2.5"/><circle cx="707.0" cy="335.2" r="2.5"/><circle cx="701.2" cy="337.0" r="2.5"/><circle cx="697.7" cy="342.8" r="2.5"/><circle cx="696.8" cy="347.1" r="2.5"/><circle cx="695.7" cy="352.1" r="2.5"/><circle cx="694.7" cy="356.2" r="2.5"/><circle cx="693.6" cy="359.5" r="2.5"/><circle cx="692.5" cy="363.6" r="2.5"/><circle cx="690.6" cy="367.7" r="2.5"/><circle cx="690.8" cy="371.7" r="2.5"/><circle cx="689.0" cy="372.8" r="2.5"/><circle cx="685.4" cy="375.2" r="2.5"/><circle cx="682.8" cy="379.5" r="2.5"/><circle cx="680.3" cy="381.9" r="2.5"/><circle cx="676.0" cy="387.0" r="2.5"/><circle cx="675.5" cy="391.6" r="2.5"/><circle cx="674.9" cy="395.0" r="2.5"/><circle cx="674.4" cy="399.2" r="2.5"/><circle cx="672.0" cy="403.3" r="2.5"/><circle cx="670.7" cy="405.3" r="2.5"/><circle cx="667.5" cy="407.4" r="2.5"/><circle cx="664.8" cy="411.9" r="2.5"/><circle cx="663.9" cy="415.7" r="2.5"/><circle cx="664.4" cy="415.9" r="2.5"/><circle cx="663.9" cy="414.9" r="2.5"/><circle cx="658.5" cy="411.9" r="2.5"/><circle cx="655.2" cy="414.5" r="2.5"/><circle cx="653.0" cy="418.9" r="2.5"/><circle cx="652.3" cy="423.0" r="2.5"/><circle cx="651.7" cy="427.4" r="2.5"/><circle cx="650.6" cy="430.0" r="2.5"/><circle cx="647.4" cy="432.6" r="2.5"/><circle cx="646.3" cy="432.7" r="2.5"/><circle cx="642.4" cy="431.5" r="2.5"/><circle cx="638.6" cy="428.9" r="2.5"/><circle cx="636.5" cy="425.8" r="2.5"/><circle cx="632.0" cy="422.8" r="2.5"/><circle cx="629.0" cy="420.0" r="2.5"/><circle cx="628.8" cy="416.3" r="2.5"/><circle cx="627.5" cy="412.3" r="2.5"/><circle cx="626.5" cy="407.9" r="2.5"/><circle cx="625.6" cy="404.2" r="2.5"/><circle cx="623.6" cy="401.1" r="2.5"/><circle cx="621.3" cy="398.0" r="2.5"/><circle cx="615.8" cy="397.6" r="2.5"/><circle cx="614.0" cy="401.3" r="2.5"/><circle cx="610.8" cy="405.1" r="2.5"/><circle cx="607.9" cy="409.0" r="2.5"/><circle cx="605.2" cy="411.7" r="2.5"/><circle cx="601.9" cy="415.1" r="2.5"/><circle cx="598.4" cy="417.3" r="2.5"/><circle cx="594.4" cy="420.0" r="2.5"/><circle cx="590.3" cy="421.4" r="2.5"/><circle cx="585.7" cy="420.9" r="2.5"/><circle cx="579.7" cy="424.0" r="2.5"/><circle cx="578.0" cy="428.9" r="2.5"/><circle cx="575.3" cy="431.7" r="2.5"/><circle cx="572.8" cy="434.2" r="2.5"/><circle cx="570.0" cy="434.8" r="2.5"/><circle cx="565.2" cy="435.2" r="2.5"/><circle cx="560.8" cy="437.4" r="2.5"/><circle cx="557.5" cy="439.6" r="2.5"/><circle cx="554.7" cy="442.5" r="2.5"/><circle cx="552.5" cy="445.5" r="2.5"/><circle cx="551.4" cy="445.2" r="2.5"/><circle cx="544.4" cy="446.2" r="2.5"/><circle cx="540.7" cy="448.0" r="2.5"/><circle cx="535.2" cy="450.4" r="2.5"/><circle cx="532.0" cy="453.9" r="2.5"/><circle cx="530.6" cy="457.8" r="2.5"/><circle cx="528.1" cy="460.3" r="2.5"/><circle cx="525.3" cy="464.2" r="2.5"/><circle cx="523.1" cy="464.8" r="2.5"/><circle cx="520.9" cy="463.7" r="2.5"/><circle cx="517.9" cy="459.7" r="2.5"/><circle cx="512.6" cy="457.4" r="2.5"/><circle cx="509.5" cy="456.2" r="2.5"/><circle cx="503.5" cy="453.6" r="2.5"/><circle cx="498.4" cy="456.2" r="2.5"/><circle cx="495.5" cy="459.0" r="2.5"/><circle cx="492.8" cy="459.0" r="2.5"/><circle cx="491.2" cy="457.7" r="2.5"/><circle cx="490.1" cy="453.3" r="2.5"/><circle cx="485.2" cy="448.7" r="2.5"/><circle cx="480.6" cy="447.3" r="2.5"/><circle cx="475.2" cy="450.3" r="2.5"/><circle cx="474.1" cy="455.5" r="2.5"/><circle cx="473.0" cy="457.8" r="2.5"/><circle cx="473.8" cy="457.3" r="2.5"/><circle cx="472.3" cy="451.4" r="2.5"/><circle cx="468.2" cy="447.7" r="2.5"/><circle cx="463.6" cy="450.1" r="2.5"/><circle cx="460.9" cy="453.7" r="2.5"/><circle cx="460.7" cy="453.9" r="2.5"/><circle cx="459.0" cy="451.8" r="2.5"/><circle cx="456.9" cy="449.0" r="2.5"/><circle cx="450.6" cy="447.0" r="2.5"/><circle cx="447.0" cy="446.4" r="2.5"/><circle cx="441.8" cy="442.6" r="2.5"/><circle cx="434.9" cy="445.1" r="2.5"/><circle cx="434.2" cy="448.0" r="2.5"/><circle cx="433.3" cy="448.8" r="2.5"/><circle cx="431.8" cy="447.8" r="2.5"/><circle cx="430.6" cy="443.5" r="2.5"/><circle cx="428.5" cy="440.5" r="2.5"/><circle cx="427.4" cy="437.3" r="2.5"/><circle cx="426.1" cy="432.4" r="2.5"/><circle cx="425.5" cy="427.8" r="2.5"/><circle cx="425.1" cy="423.6" r="2.5"/><circle cx="424.2" cy="420.0" r="2.5"/><circle cx="420.4" cy="416.3" r="2.5"/><circle cx="415.8" cy="414.8" r="2.5"/><circle cx="412.2" cy="413.6" r="2.5"/><circle cx="411.7" cy="410.3" r="2.5"/><circle cx="410.3" cy="404.7" r="2.5"/><circle cx="410.5" cy="400.2" r="2.5"/><circle cx="410.1" cy="395.0" r="2.5"/><circle cx="409.9" cy="390.8" r="2.5"/></g><g fill="none" stroke="#000" stroke-width="5.2" stroke-linecap="round" stroke-linejoin="round"><polyline points="350.3,267.3 351.0,258.0 352.3,244.7 352.3,236.7 352.3,226.0 353.7,215.3 354.3,207.3 352.3,199.3 354.3,192.0"/><polyline points="355.0,127.0 355.0,150.0 355.5,168.0"/><polyline points="371.0,181.0 371.0,195.3 375.7,201.3 375.0,213.3"/><polyline points="936.5,162.5 937.0,182.0"/></g><g fill="#000"><circle cx="355.2" cy="127.3" r="2.7"/><circle cx="359.8" cy="126.2" r="2.7"/><circle cx="355.2" cy="132.0" r="2.7"/><circle cx="360.4" cy="130.8" r="2.7"/><circle cx="357.5" cy="136.7" r="2.7"/><circle cx="363.9" cy="135.5" r="2.7"/><circle cx="355.2" cy="140.8" r="2.7"/><circle cx="359.8" cy="140.2" r="2.7"/><circle cx="364.5" cy="143.1" r="2.7"/><circle cx="355.2" cy="148.3" r="2.7"/><circle cx="356.3" cy="151.8" r="2.7"/><circle cx="354.6" cy="157.7" r="2.7"/><circle cx="356.3" cy="162.3" r="2.7"/><circle cx="355.2" cy="168.2" r="2.7"/><circle cx="363.3" cy="162.3" r="2.7"/><circle cx="362.8" cy="169.3" r="2.7"/><circle cx="363.3" cy="177.5" r="2.7"/><circle cx="369.8" cy="129.1" r="2.7"/><circle cx="370.9" cy="143.7" r="2.7"/><circle cx="370.9" cy="149.5" r="2.7"/><circle cx="370.9" cy="165.8" r="2.7"/><circle cx="371.5" cy="182.2" r="2.7"/><circle cx="371.5" cy="189.2" r="2.7"/><circle cx="354.0" cy="192.1" r="2.7"/><circle cx="366.4" cy="39.1" r="2.7"/><circle cx="366.8" cy="44.9" r="2.7"/><circle cx="366.8" cy="56.4" r="2.7"/><circle cx="367.3" cy="59.7" r="2.7"/><circle cx="367.9" cy="65.1" r="2.7"/><circle cx="368.6" cy="70.5" r="2.7"/><circle cx="359.3" cy="74.4" r="2.7"/><circle cx="367.3" cy="75.3" r="2.7"/><circle cx="366.8" cy="83.1" r="2.7"/><circle cx="367.3" cy="90.0" r="2.7"/><circle cx="367.9" cy="94.3" r="2.7"/><circle cx="368.6" cy="99.8" r="2.7"/><circle cx="359.3" cy="95.4" r="2.7"/><circle cx="359.3" cy="100.8" r="2.7"/><circle cx="369.4" cy="104.1" r="2.7"/><circle cx="358.2" cy="107.3" r="2.7"/><circle cx="364.7" cy="107.3" r="2.7"/><circle cx="369.4" cy="112.8" r="2.7"/><circle cx="357.1" cy="113.8" r="2.7"/><circle cx="364.7" cy="114.9" r="2.7"/><circle cx="357.1" cy="120.3" r="2.7"/><circle cx="370.1" cy="120.3" r="2.7"/><circle cx="358.2" cy="124.7" r="2.7"/><circle cx="354.9" cy="128.6" r="2.7"/><circle cx="362.5" cy="123.6" r="2.7"/><circle cx="370.1" cy="129.0" r="2.7"/><circle cx="370.1" cy="131.6" r="2.7"/><circle cx="356.0" cy="132.3" r="2.7"/><circle cx="360.3" cy="137.7" r="2.7"/><circle cx="363.6" cy="135.5" r="2.7"/><circle cx="356.0" cy="142.0" r="2.7"/><circle cx="362.5" cy="143.1" r="2.7"/><circle cx="370.1" cy="144.2" r="2.7"/><circle cx="370.1" cy="149.6" r="2.7"/><circle cx="354.9" cy="149.6" r="2.7"/><circle cx="358.2" cy="152.8" r="2.7"/><circle cx="366.8" cy="152.8" r="2.7"/><circle cx="367.0" cy="86.5" r="2.7"/><circle cx="368.0" cy="97.0" r="2.7"/><circle cx="368.5" cy="108.0" r="2.7"/><circle cx="366.0" cy="118.0" r="2.7"/><circle cx="369.0" cy="125.0" r="2.7"/><circle cx="364.7" cy="161.7" r="2.7"/><circle cx="362.5" cy="168.0" r="2.7"/><circle cx="362.5" cy="176.8" r="2.7"/><circle cx="358.0" cy="157.0" r="2.7"/><circle cx="371.0" cy="148.7" r="2.7"/><circle cx="367.0" cy="138.0" r="2.7"/><circle cx="360.0" cy="146.0" r="2.7"/><circle cx="361.0" cy="158.0" r="2.7"/><circle cx="129.4" cy="488.2" r="2.7"/><circle cx="285.4" cy="385.0" r="2.7"/><circle cx="337.5" cy="350.6" r="2.7"/><circle cx="396.3" cy="288.7" r="2.7"/><circle cx="396.3" cy="295.3" r="2.7"/><circle cx="396.3" cy="338.7" r="2.7"/><circle cx="665.1" cy="388.1" r="2.7"/><circle cx="893.5" cy="252.0" r="2.7"/><circle cx="895.5" cy="355.0" r="2.7"/><circle cx="910.5" cy="286.2" r="2.7"/><circle cx="916.2" cy="328.7" r="2.7"/><circle cx="916.2" cy="333.0" r="2.7"/><circle cx="916.2" cy="337.2" r="2.7"/><circle cx="922.5" cy="192.0" r="2.7"/><circle cx="923.2" cy="201.0" r="2.7"/><circle cx="922.5" cy="214.5" r="2.7"/><circle cx="922.5" cy="218.0" r="2.7"/><circle cx="922.5" cy="222.0" r="2.7"/><circle cx="932.2" cy="216.0" r="2.7"/><circle cx="936.0" cy="149.2" r="2.7"/><circle cx="936.0" cy="153.6" r="2.7"/><circle cx="938.5" cy="205.0" r="2.7"/><circle cx="933.3" cy="208.0" r="2.7"/><circle cx="935.5" cy="166.0" r="2.7"/><circle cx="938.0" cy="172.0" r="2.7"/><circle cx="935.0" cy="177.0" r="2.7"/><circle cx="705.0" cy="300.7" r="2.7"/><circle cx="705.5" cy="305.5" r="2.7"/><circle cx="705.0" cy="311.0" r="2.7"/><circle cx="703.0" cy="316.0" r="2.7"/><circle cx="718.3" cy="319.3" r="2.7"/><circle cx="718.3" cy="324.7" r="2.7"/><circle cx="900.4" cy="512.5" r="2.7"/><circle cx="905.0" cy="512.5" r="2.7"/><circle cx="905.8" cy="512.5" r="2.7"/></g><g fill="#ff0000" fill-opacity="0.7" stroke="#ff0000" stroke-opacity="0.7" stroke-width="1"><circle cx="940.3" cy="132.2" r="2.4"/><circle cx="940.3" cy="136.2" r="2.4"/><circle cx="939.5" cy="141.0" r="2.4"/><circle cx="941.0" cy="143.5" r="2.4"/><circle cx="941.5" cy="148.5" r="2.4"/><circle cx="941.6" cy="151.0" r="2.4"/><circle cx="941.5" cy="154.0" r="2.4"/><circle cx="941.6" cy="157.3" r="2.4"/><circle cx="939.5" cy="163.0" r="2.4"/><circle cx="939.5" cy="171.0" r="2.4"/><circle cx="939.5" cy="177.5" r="2.4"/></g><polyline points="120.6,474.0 121.7,474.4 122.9,473.3 124.0,475.0 124.8,477.0 125.7,476.2 126.5,475.8 127.3,477.6 128.2,479.8 129.0,478.8 129.8,477.4 130.6,477.9 131.4,478.3 132.2,476.9 133.0,475.3 133.7,474.5 134.4,475.0 135.1,475.4 135.9,473.6 136.6,471.3 137.3,471.6 138.0,472.5 138.8,471.5 139.6,471.7 140.4,474.2 141.2,475.1 142.0,474.5 142.8,474.4 143.6,475.9 144.4,477.8 145.2,478.1 146.0,477.8 147.0,477.0 148.0,477.8 149.0,478.6 150.0,479.9 151.0,479.5 152.0,478.3 153.0,478.4 154.0,480.2 155.0,481.2 156.0,480.3 157.0,479.7 158.0,480.8 158.9,481.4 159.7,480.6 160.6,479.4 161.4,477.8 162.3,477.9 163.1,478.2 164.0,478.0 164.9,476.7 165.7,474.9 166.6,474.4 167.4,474.8 168.3,475.7 169.1,473.7 170.0,472.6 171.0,472.2 172.0,473.6 173.0,475.2 174.0,476.9 175.0,476.0 176.0,475.9 177.0,475.9 178.0,478.0 179.0,479.4 180.0,480.0 181.0,479.1 182.0,478.8 183.0,479.5 184.0,480.8 185.0,482.1 186.0,481.5 187.0,480.9 188.0,481.4 189.0,482.7 190.0,484.6 191.0,482.1 192.0,481.0 193.0,481.9 194.0,481.3 195.0,479.5 196.0,478.4 197.0,479.1 198.0,479.6 199.0,478.1 200.0,476.1 201.0,476.7 202.0,478.4 203.0,479.3 204.0,478.7 205.0,477.7 206.0,479.5 207.0,481.1 208.0,480.0 209.0,479.3 210.0,481.7 211.0,481.7 212.0,481.4 213.0,481.0 214.0,482.6 215.0,483.9 216.0,484.0 217.0,482.7 218.0,482.0 219.0,483.6 220.0,485.0 220.9,484.4 221.7,482.5 222.6,481.1 223.4,481.9 224.3,482.2 225.1,480.5 226.0,478.6 227.0,479.4 228.0,480.5 229.0,478.7 230.0,476.8 231.0,477.5 232.0,478.3 233.0,477.1 234.0,476.7 235.0,478.7 236.0,479.9 237.0,479.5 238.0,478.9 239.0,479.9 240.0,481.3 241.0,482.6 242.0,481.3 243.0,480.0 244.0,480.9 245.0,481.8 246.0,480.5 247.0,479.1 248.0,479.5 248.8,480.5 249.5,478.7 250.2,477.0 251.0,476.0 251.8,476.2 252.5,476.5 253.2,475.5 254.0,473.5 254.4,472.0 254.7,472.0 255.1,472.3 255.4,470.1 255.8,467.8 256.1,467.8 256.5,467.6 256.9,467.1 257.2,464.4 257.6,463.9 257.9,464.2 258.3,462.3 258.6,459.9 259.0,459.2 259.5,459.3 260.1,459.3 260.6,458.0 261.2,455.9 261.7,454.0 262.3,454.1 262.8,454.7 263.4,453.5 263.9,450.8 264.5,450.4 265.0,450.7 266.0,450.7 267.0,449.4 268.0,447.8 269.0,447.3 270.0,448.3 270.6,448.0 271.1,447.0 271.7,444.7 272.2,443.5 272.8,444.3 273.3,443.6 273.9,441.6 274.4,439.9 275.0,439.5 275.5,439.9 275.9,439.1 276.4,437.1 276.8,435.2 277.3,435.1 277.8,435.9 278.2,434.0 278.7,432.1 279.2,430.2 279.6,430.7 280.1,430.8 280.5,429.8 281.0,427.4 281.5,426.4 282.0,427.0 282.5,426.0 283.0,423.5 283.5,422.5 284.0,422.8 284.5,422.9 285.0,421.1 285.3,419.1 285.6,419.1 285.9,418.9 286.2,416.7 286.6,414.6 286.9,414.8 287.2,414.9 287.5,413.5 287.8,411.4 288.1,409.8 288.4,410.3 288.8,410.2 289.1,407.9 289.4,405.9 289.7,405.1 290.0,405.3 290.3,405.4 290.7,403.7 291.0,401.3 291.3,400.2 291.7,400.4 292.0,400.2 292.3,397.8 292.7,395.8 293.0,395.7 293.3,395.7 293.7,394.9 294.0,392.3 294.3,390.7 294.7,390.9 295.0,391.3 296.0,389.8 297.0,388.5 298.0,386.8 299.0,386.7 300.0,387.1 300.5,387.3 300.9,384.8 301.4,382.8 301.9,383.3 302.4,383.1 302.8,381.0 303.3,378.7 303.7,378.4 304.1,378.1 304.6,378.3 305.0,375.4 305.4,373.4 305.9,373.8 306.3,373.6 306.7,371.5 307.3,370.2 307.9,368.9 308.6,369.5 309.2,369.5 309.8,368.6 310.4,366.5 311.1,364.8 311.7,364.2 312.2,364.6 312.6,364.5 313.1,362.0 313.5,360.2 314.0,359.6 314.3,359.3 314.6,359.1 314.9,357.0 315.2,354.5 315.5,354.8 315.8,355.1 316.1,353.4 316.4,351.0 316.7,350.1 317.0,350.3 317.3,350.3 317.6,347.8 317.9,345.8 318.2,346.0 318.5,345.9 318.8,344.4 319.1,342.6 319.4,340.9 319.7,340.9 320.0,340.8 320.4,340.1 320.8,338.0 321.2,335.5 321.6,335.6 322.0,336.2 322.4,334.7 322.8,332.7 323.2,330.9 323.5,330.5 323.9,330.5 324.3,330.6 324.7,328.1 325.1,325.7 325.5,326.4 325.9,326.5 326.3,324.8 326.7,322.7 327.7,321.5 328.7,321.7 329.7,321.8 330.7,321.6 331.7,319.9 332.0,317.6 332.4,317.9 332.7,318.2 333.0,316.2 333.4,313.6 333.7,314.0 334.0,314.0 334.3,312.5 334.7,310.6 335.0,309.1 335.6,309.1 336.1,309.3 336.7,308.0 337.2,305.8 337.8,304.3 338.3,304.6 338.9,304.4 339.4,303.3 340.0,301.3 340.2,299.9 340.4,300.4 340.7,299.5 340.9,297.5 341.1,295.5 341.3,294.7 341.5,295.0 341.8,295.1 342.0,293.2 342.2,291.6 342.4,289.3 342.6,289.2 342.9,289.3 343.1,288.8 343.3,286.7 343.5,284.4 343.6,284.9 343.8,284.6 344.0,282.0 344.1,280.0 344.3,280.1 344.5,280.2 344.6,279.3 344.8,277.0 345.0,275.3 345.2,275.8 345.3,274.9 345.5,272.6 345.7,271.1 345.8,272.0 346.0,270.4 346.2,268.9 346.3,266.6 346.5,266.7 346.6,266.6 346.8,266.4 346.9,264.1 347.1,261.9 347.2,261.7 347.4,262.3 347.5,260.4 347.7,258.4 347.8,256.5 348.0,256.7 348.2,256.6 348.3,256.3 348.5,254.2 348.6,251.9 348.8,251.3 348.9,251.3 349.1,251.1 349.2,249.5 349.4,247.2 349.5,246.0 349.7,245.5 349.9,245.6 350.0,245.2 350.2,243.1 350.3,241.1 350.5,240.2 350.6,240.2 350.8,240.1 350.9,238.5 351.1,236.0 351.2,235.9 351.4,236.5 351.5,233.8 351.7,231.6 351.8,232.1 351.9,231.8 352.1,230.3 352.2,228.4 352.3,227.0 352.4,227.2 352.5,227.3 352.7,225.2 352.8,222.7 352.9,222.8 353.0,222.6 353.1,221.5 353.3,219.1 353.4,218.3 353.5,218.6 353.6,217.8 353.7,215.5 353.9,214.2 354.0,214.7 354.1,213.9 354.2,211.6 354.3,209.7 354.5,209.3 354.6,209.5 354.7,209.1 354.8,207.0 354.9,205.2 355.1,204.1 355.2,204.7 355.3,204.5 355.4,202.1 355.6,200.3 355.7,199.0 355.8,199.0 355.9,199.2 356.0,197.8 356.2,196.1 356.3,193.8 356.4,193.6 356.5,193.7 356.6,193.3 356.8,190.7 356.9,189.2 357.0,189.8 357.1,188.2 357.2,186.2 357.4,185.0 357.5,185.4 357.6,185.1 357.7,183.1 357.8,181.2 358.0,180.6 358.1,180.2 358.2,180.4 358.4,178.0 358.5,176.1 358.7,174.8 358.9,174.7 359.0,175.0 359.2,173.5 359.4,171.9 359.6,169.8 359.7,169.0 359.9,169.4 360.1,169.1 360.2,167.5 360.4,165.6 360.6,163.3 360.7,163.5 360.9,163.5 361.1,163.1 361.2,161.2 361.4,159.1 361.6,157.3 361.7,157.2 361.9,157.2 362.1,156.5 362.2,154.2 362.4,152.7 362.6,153.0 362.8,152.7 362.9,150.2 363.1,148.2 363.3,148.5 363.4,148.5 363.6,147.2 363.8,146.7 364.0,148.0 364.2,150.4 364.4,151.0 364.6,150.6 364.8,151.3 365.1,153.6 365.3,155.7 365.5,155.8 365.7,155.6 365.9,156.2 366.1,158.2 366.3,160.4 366.5,161.0 366.7,160.6 366.9,161.5 367.1,164.2 367.3,164.9 367.5,164.6 367.8,166.0 368.0,168.7 368.2,168.6 368.4,168.1 368.6,170.3 368.8,172.5 369.0,172.4 369.2,172.7 369.3,173.2 369.5,175.4 369.7,177.2 369.8,178.3 370.0,178.2 370.2,178.5 370.3,181.2 370.5,182.5 370.7,181.9 370.8,182.2 371.0,184.4 371.2,186.9 371.3,186.8 371.5,186.5 371.7,187.7 371.8,189.9 372.0,191.8 372.2,191.7 372.3,191.1 372.5,193.3 372.7,195.5 372.8,195.3 373.0,195.8 373.2,197.9 373.3,199.1 373.5,199.4 373.7,199.5 373.8,201.2 374.0,202.6 374.2,204.7 374.3,205.3 374.5,204.7 374.7,205.3 374.8,207.7 375.0,209.4 375.2,210.0 375.3,209.9 375.5,210.9 375.8,212.7 376.0,214.8 376.2,214.8 376.5,214.6 376.8,215.9 377.0,217.6 377.2,219.7 377.5,220.2 377.8,219.6 378.0,220.8 378.2,223.1 378.5,224.2 378.8,224.2 379.0,224.2 379.2,226.3 379.5,228.1 379.8,229.1 380.0,229.3 380.2,229.4 380.5,231.1 380.8,232.8 381.0,234.9 381.2,234.4 381.5,234.5 381.8,236.8 382.0,239.1 382.2,238.8 382.3,238.4 382.5,240.1 382.7,242.1 382.8,243.9 383.0,243.1 383.2,243.6 383.3,245.7 383.5,247.9 383.7,248.0 383.8,247.8 384.0,248.9 384.2,251.3 384.4,253.4 384.6,253.2 384.8,253.1 385.0,254.8 385.2,257.2 385.4,257.3 385.6,257.0 385.8,258.6 386.0,260.6 386.2,261.9 386.4,261.5 386.6,262.1 386.8,264.1 387.0,266.4 387.2,265.3 387.4,266.5 387.6,268.6 387.8,269.2 388.0,269.4 388.2,270.3 388.4,272.5 388.6,274.4 388.8,274.0 389.0,274.2 389.2,275.1 389.4,276.9 389.6,279.4 389.8,279.7 390.0,279.3 390.2,279.9 390.4,282.0 390.5,284.3 390.7,284.5 390.9,284.0 391.1,285.4 391.2,288.2 391.4,288.0 391.6,288.1 391.8,289.3 392.0,291.1 392.1,293.2 392.3,293.3 392.5,293.5 392.7,293.4 392.9,295.4 393.0,297.3 393.2,299.5 393.4,299.6 393.6,299.7 393.8,299.8 393.9,301.9 394.1,303.7 394.3,305.5 394.5,305.2 394.6,305.0 394.8,306.7 395.0,309.1 395.2,309.9 395.4,309.6 395.5,309.9 395.7,312.5 395.9,314.0 396.1,314.0 396.2,313.6 396.5,316.2 396.7,317.9 396.9,318.2 397.1,317.8 397.4,319.1 397.6,321.2 397.8,323.4 398.0,323.0 398.3,322.8 398.5,323.7 398.7,325.8 398.9,327.6 399.2,328.6 399.4,328.1 399.6,329.4 399.8,331.9 400.0,332.1 400.3,332.0 400.5,332.2 400.7,334.3 400.9,336.3 401.2,337.7 401.4,337.8 401.6,337.3 401.8,339.0 402.1,341.4 402.3,342.4 402.5,342.3 402.7,342.7 402.8,343.5 403.0,345.6 403.2,347.9 403.3,347.9 403.5,347.7 403.7,348.5 403.8,351.0 404.0,353.0 404.2,353.2 404.3,353.4 404.5,353.2 404.7,355.3 404.8,357.1 405.0,358.9 405.2,358.5 405.3,358.6 405.5,360.2 405.7,362.6 405.8,363.8 406.0,363.2 406.2,364.0 406.3,366.2 406.5,367.9 406.7,367.7 406.8,368.0 407.0,370.2 407.2,372.1 407.4,372.5 407.5,372.1 407.7,373.8 407.9,376.4 408.1,376.0 408.3,375.8 408.5,377.1 408.6,379.6 408.8,381.4 409.0,381.1 409.2,381.3 409.4,382.3 409.5,384.2 409.7,386.0 409.9,386.9 410.1,386.4 410.3,386.6 410.5,389.1 410.6,391.6 410.8,391.2 411.0,391.1 411.2,392.2 411.4,394.5 411.7,396.6 411.9,395.9 412.1,395.8 412.3,397.5 412.6,399.7 412.8,401.0 413.0,401.1 413.2,400.9 413.4,402.1 413.7,404.4 413.9,406.4 414.1,406.3 414.3,406.4 414.6,407.3 414.8,409.0 415.0,411.3 416.0,410.6 417.0,410.1 418.0,410.4 419.0,411.6 420.0,412.8 421.0,412.2 421.6,412.3 422.1,412.6 422.7,414.1 423.3,415.9 423.9,417.8 424.4,417.3 425.0,417.2 425.4,417.7 425.8,419.6 426.2,421.6 426.6,422.8 427.0,423.0 427.4,423.0 427.8,423.7 428.2,425.9 428.6,428.0 429.0,429.1 429.5,429.2 430.0,428.7 430.5,430.0 431.0,432.4 431.5,433.9 432.0,434.6 432.5,434.2 433.0,435.3 433.6,437.1 434.2,438.7 434.8,437.7 435.4,438.5 436.0,440.3 436.6,441.9 437.2,441.7 437.8,441.3 438.4,442.0 439.0,444.1 440.0,444.9 441.0,445.5 442.0,444.3 443.0,443.4 444.0,445.6 445.0,445.9 445.7,443.8 446.3,442.1 447.0,442.8 447.7,442.8 448.3,441.8 449.0,439.6 449.7,439.0 450.3,440.1 451.0,438.6 451.7,436.7 452.3,436.8 453.0,437.5 453.8,436.6 454.6,436.3 455.4,438.0 456.2,440.2 457.0,439.4 457.8,439.0 458.6,440.7 459.4,442.7 460.2,442.8 461.0,442.4 462.0,442.1 463.0,443.6 464.0,445.1 465.0,444.5 466.0,443.6 467.0,444.2 468.0,445.5 469.0,445.7 469.9,445.0 470.7,444.9 471.6,446.5 472.4,448.1 473.3,449.8 474.1,449.9 475.0,449.2 475.7,447.7 476.5,448.4 477.2,448.6 477.9,448.5 478.6,446.7 479.4,445.2 480.1,443.4 480.8,443.9 481.5,444.0 482.3,444.0 483.0,441.7 483.8,441.5 484.6,443.6 485.4,445.1 486.2,444.6 487.0,444.5 487.8,446.5 488.6,448.5 489.4,447.6 490.2,447.7 491.0,447.9 492.0,449.1 493.0,450.6 494.0,450.4 495.0,449.8 496.0,448.8 497.0,450.4 498.0,451.4 499.0,452.1 499.9,451.7 500.8,451.1 501.7,452.4 502.6,454.1 503.4,454.2 504.3,453.9 505.2,453.8 506.1,455.4 507.0,456.7 507.7,455.9 508.3,454.4 509.0,452.2 509.7,451.9 510.3,452.3 511.0,452.4 511.7,450.8 512.3,448.9 513.0,447.2 513.7,447.3 514.3,447.5 515.0,447.0 515.9,446.5 516.8,445.8 517.6,447.4 518.5,448.9 519.4,448.9 520.2,448.2 521.1,448.8 522.0,450.6 522.9,449.7 523.7,447.5 524.6,447.1 525.4,447.9 526.3,447.5 527.1,445.7 528.0,443.8 529.0,445.1 530.0,446.2 531.0,446.0 532.0,445.6 533.0,444.4 534.0,445.7 535.0,447.5 536.0,447.8 537.0,447.3 538.0,446.9 538.5,447.0 538.9,447.3 539.4,444.6 539.8,443.6 540.3,443.8 540.8,443.0 541.2,440.8 541.7,439.9 542.2,440.4 542.6,439.6 543.1,437.4 543.5,435.9 544.0,435.7 545.0,436.1 546.0,436.5 547.0,435.1 548.0,433.0 549.0,433.9 550.0,435.0 550.8,435.6 551.6,435.1 552.4,435.4 553.2,437.5 554.0,439.4 554.8,437.1 555.5,435.4 556.2,434.9 557.0,435.6 557.8,435.7 558.5,433.1 559.2,432.0 560.0,432.5 561.0,432.2 562.0,430.8 563.0,430.7 564.0,431.7 565.0,431.4 566.0,430.2 567.0,428.8 568.0,429.3 569.0,430.3 570.0,430.4 571.0,429.6 572.0,428.0 573.0,427.5 574.0,428.4 574.5,428.6 575.1,426.3 575.6,424.3 576.2,423.3 576.7,423.3 577.3,423.4 577.8,422.2 578.4,420.6 578.9,418.8 579.5,418.1 580.0,418.7 580.9,419.9 581.7,419.4 582.6,418.7 583.4,420.4 584.3,422.3 585.1,423.2 586.0,422.5 586.8,421.1 587.6,421.2 588.4,421.4 589.2,421.8 590.0,420.1 590.8,418.0 591.6,418.5 592.4,419.3 593.2,417.8 594.0,415.8 595.0,416.4 596.0,417.2 597.0,417.6 598.0,416.1 599.0,415.3 600.0,415.7 601.0,416.8 602.0,417.2 602.5,415.1 603.1,412.9 603.6,413.0 604.1,413.3 604.7,412.8 605.2,410.6 605.7,408.9 606.3,408.8 606.8,408.9 607.3,408.4 607.9,406.1 608.4,404.7 608.9,404.2 609.5,404.1 610.0,404.2 610.7,404.2 611.3,403.8 612.0,404.1 612.7,406.2 613.3,408.3 614.0,408.3 614.7,408.1 615.3,408.2 616.0,410.2 617.0,411.1 618.0,409.4 619.0,408.0 620.0,407.8 621.0,408.4 622.0,408.9 622.8,409.6 623.6,409.0 624.4,408.9 625.2,410.0 626.0,411.5 626.8,412.8 627.6,412.8 628.4,411.9 629.2,413.2 630.0,415.4 631.0,414.0 632.0,413.1 633.0,413.5 633.7,413.8 634.3,413.5 635.0,411.1 635.7,410.2 636.3,410.6 637.0,409.8 637.7,407.9 638.3,406.9 639.0,407.1 639.7,407.5 640.3,405.0 641.0,403.7 641.7,405.8 642.5,406.9 643.2,406.3 643.9,407.3 644.6,409.3 645.4,409.1 646.1,408.7 646.8,409.8 647.5,412.1 648.3,413.2 649.0,412.2 650.0,411.5 651.0,412.6 652.0,412.1 653.0,411.1 654.0,409.8 655.0,409.9 656.0,410.5 657.0,411.6 658.0,410.7 659.0,409.8 660.0,408.4 661.0,409.8 662.0,410.9 662.4,410.1 662.8,408.0 663.2,406.0 663.6,406.6 664.0,406.5 664.4,403.9 664.9,402.3 665.3,402.7 665.7,402.6 666.1,400.5 666.5,398.7 666.9,397.7 667.3,398.0 667.7,397.7 668.0,396.4 668.4,394.2 668.7,392.2 669.0,392.5 669.4,392.9 669.7,391.4 670.0,388.8 670.4,388.4 670.7,388.8 671.0,387.2 671.3,384.9 671.7,383.5 672.0,383.6 672.3,383.8 672.7,382.4 673.0,380.5 674.1,379.4 675.1,380.1 676.2,379.8 677.2,378.4 678.3,376.9 678.8,376.5 679.3,376.3 679.8,376.4 680.3,374.2 680.8,371.8 681.2,372.2 681.7,372.4 682.2,369.7 682.7,368.4 683.2,369.3 683.7,367.8 684.6,366.3 685.5,364.7 686.4,365.3 687.3,366.1 688.1,364.7 689.0,363.0 689.9,362.5 690.8,363.7 691.7,362.7 692.1,360.0 692.5,359.9 692.8,360.3 693.2,358.3 693.6,356.2 694.0,355.5 694.4,355.8 694.7,355.7 695.1,353.7 695.5,351.2 695.9,351.0 696.2,351.6 696.6,350.2 697.0,347.9 697.3,346.5 697.7,346.6 698.0,347.0 698.3,345.0 698.7,342.4 699.0,342.6 699.3,342.9 699.6,341.1 700.0,338.9 700.3,337.8 700.6,337.8 701.0,337.7 701.3,336.1 701.6,333.9 702.0,332.8 702.3,332.6 703.2,332.7 704.1,331.6 705.0,330.0 705.7,329.3 706.3,331.5 707.0,333.9 707.6,333.8 708.3,333.2 709.0,334.6 709.6,337.3 710.3,336.6 711.4,335.4 712.5,335.4 713.6,336.9 714.8,336.8 715.9,335.1 717.0,334.3 718.0,335.1 718.9,336.8 719.9,338.2 720.8,337.9 721.8,337.4 722.7,337.8 723.7,340.2 724.5,339.8 725.3,337.1 726.1,336.5 726.9,337.8 727.7,336.4 728.5,334.4 729.3,334.0 730.1,334.2 730.9,334.6 731.7,333.1 732.6,332.1 733.5,333.0 734.4,335.1 735.2,336.7 736.1,336.6 737.0,336.2 738.0,335.1 739.0,336.0 740.0,336.9 741.0,337.1 742.0,335.6 743.0,334.6 744.0,336.1 745.0,335.8 745.9,335.1 746.8,335.8 747.7,337.8 748.6,337.9 749.4,337.3 750.3,336.9 751.2,338.7 752.1,340.6 753.0,340.0 753.4,339.9 753.8,340.6 754.2,342.7 754.6,345.0 755.0,345.4 755.3,344.8 755.7,346.1 756.1,348.5 756.5,349.4 756.9,348.9 757.3,350.3 758.0,352.8 758.8,351.9 759.5,351.3 760.2,353.3 761.0,355.6 761.7,355.3 762.6,354.5 763.6,355.6 764.5,357.1 765.4,358.8 766.3,358.4 767.3,357.7 768.2,358.5 768.6,360.8 768.9,362.7 769.3,362.2 769.6,362.5 770.0,363.5 770.4,365.4 770.7,367.6 771.1,367.7 771.5,367.2 771.8,368.4 772.2,371.1 772.5,371.0 772.9,371.4 773.3,371.9 773.6,373.6 774.0,375.3 774.3,377.0 774.7,376.3 775.2,376.4 775.7,378.8 776.1,380.5 776.6,380.3 777.1,380.9 777.5,381.2 778.0,383.2 778.5,385.4 779.0,385.9 779.5,386.0 779.9,385.8 780.4,388.1 780.9,390.0 781.3,390.4 781.8,390.1 782.3,390.5 783.1,390.7 784.0,391.2 784.8,390.6 785.6,388.8 786.5,386.9 787.3,387.2 788.1,387.7 789.0,387.2 789.8,385.0 790.4,383.2 791.0,382.8 791.5,382.9 792.1,383.4 792.7,381.6 793.3,379.6 793.9,377.7 794.4,377.9 795.0,377.8 795.6,377.8 796.2,375.9 796.8,374.5 797.3,372.7 797.9,373.2 798.5,373.0 799.6,373.1 800.7,372.5 801.8,371.1 802.8,371.6 803.9,372.9 805.0,373.4 805.7,371.5 806.4,369.9 807.2,369.2 807.9,370.1 808.6,369.7 809.3,367.8 810.1,365.7 810.8,366.3 811.5,367.0 812.6,365.9 813.7,364.5 814.8,364.6 815.8,365.8 816.9,366.2 818.0,364.6 818.6,362.3 819.2,362.7 819.9,363.5 820.5,361.8 821.1,359.9 821.7,358.9 822.4,359.0 823.0,359.2 823.6,356.9 824.2,355.1 824.8,355.0 825.5,355.4 826.1,354.2 826.7,352.3 827.5,351.0 828.3,352.0 829.1,352.4 830.0,349.8 830.8,348.4 831.6,348.9 832.4,349.2 833.2,347.1 834.3,346.5 835.4,347.8 836.4,346.9 837.5,345.9 838.6,344.6 839.6,345.4 840.7,345.9 841.8,346.8 842.7,345.6 843.5,343.8 844.4,342.6 845.3,342.8 846.1,343.0 847.0,342.8 847.9,341.3 848.8,340.2 849.6,339.3 850.5,340.0 851.1,339.7 851.7,339.0 852.4,336.4 853.0,335.6 853.6,336.4 854.2,335.7 854.9,333.5 855.5,332.3 856.1,332.9 856.7,331.9 857.3,330.1 858.0,328.4 858.6,328.7 859.2,328.4 859.9,327.8 860.6,326.0 861.3,323.5 862.3,324.3 863.3,325.7 864.3,326.4 865.3,325.2 866.3,324.8 867.3,326.0 868.3,326.5 869.3,325.7 870.1,324.4 870.9,325.2 871.8,325.2 872.6,323.2 873.4,321.5 874.2,322.2 875.1,322.8 875.9,321.6 876.7,320.1 877.5,319.1 878.4,319.7 879.2,319.9 880.0,317.8 880.7,315.7 881.5,316.2 882.2,316.8 882.9,315.5 883.6,314.0 884.4,312.7 885.1,313.0 885.8,313.5 886.5,312.0 887.3,310.1 888.0,309.0 888.7,309.4 889.5,310.0 890.2,308.4 890.9,306.0 891.6,306.1 892.4,306.3 893.1,305.3 893.8,303.6 894.5,302.4 895.3,302.9 896.0,303.3 897.0,301.4 897.9,299.6 898.9,300.7 899.9,301.4 900.9,299.2 901.8,298.1 902.8,298.9 903.8,299.4 904.8,297.7 905.7,295.7 906.7,296.1 907.7,296.9 908.7,297.4 909.7,295.2 910.7,294.3 911.7,295.7 912.7,295.3 913.7,294.0 914.7,292.9 915.2,292.9 915.7,292.9 916.1,291.5 916.6,289.5 917.1,288.0 917.6,288.0 918.1,288.2 918.6,286.4 919.0,284.4 919.5,284.0 920.0,284.2 920.8,282.9 921.5,280.7 922.3,280.2 923.0,280.2 923.8,281.0 924.5,279.2 925.3,277.0 926.3,277.9 927.3,279.5 928.3,278.6 929.3,277.8 930.3,278.1 931.3,279.0 932.3,280.8 933.3,279.8 934.1,278.0 934.8,277.0 935.6,277.5 936.4,277.4 937.1,276.6 937.9,274.7 938.6,273.8 939.4,274.0 940.2,274.5 940.9,273.1 941.7,271.3 942.5,270.5 943.2,271.0 944.0,270.0" fill="none" stroke="#0072B2" stroke-width="2.08" stroke-linejoin="round" stroke-linecap="square"/><rect x="79.55" y="15.4" width="905.85" height="527.0" fill="none" stroke="#000" stroke-width="1.11"/><g stroke="#000" stroke-width="1.11"><line x1="152.45" y1="542.4" x2="152.45" y2="547.26"/><line x1="278.28" y1="542.4" x2="278.28" y2="547.26"/><line x1="404.1" y1="542.4" x2="404.1" y2="547.26"/><line x1="529.95" y1="542.4" x2="529.95" y2="547.26"/><line x1="655.8" y1="542.4" x2="655.8" y2="547.26"/><line x1="781.6" y1="542.4" x2="781.6" y2="547.26"/><line x1="907.45" y1="542.4" x2="907.45" y2="547.26"/><line x1="79.55" y1="512.45" x2="74.69" y2="512.45"/><line x1="79.55" y1="425.66" x2="74.69" y2="425.66"/><line x1="79.55" y1="338.87" x2="74.69" y2="338.87"/><line x1="79.55" y1="252.08" x2="74.69" y2="252.08"/><line x1="79.55" y1="165.29" x2="74.69" y2="165.29"/><line x1="79.55" y1="78.5" x2="74.69" y2="78.5"/></g><g font-family="Liberation Sans, sans-serif" font-size="14" fill="#000"><text x="152.45" y="562.2" text-anchor="middle" textLength="33.8" lengthAdjust="spacingAndGlyphs">2001</text><text x="278.28" y="562.2" text-anchor="middle" textLength="33.8" lengthAdjust="spacingAndGlyphs">2005</text><text x="404.1" y="562.2" text-anchor="middle" textLength="33.8" lengthAdjust="spacingAndGlyphs">2009</text><text x="529.95" y="562.2" text-anchor="middle" textLength="33.8" lengthAdjust="spacingAndGlyphs">2013</text><text x="655.8" y="562.2" text-anchor="middle" textLength="33.8" lengthAdjust="spacingAndGlyphs">2017</text><text x="781.6" y="562.2" text-anchor="middle" textLength="33.8" lengthAdjust="spacingAndGlyphs">2021</text><text x="907.45" y="562.2" text-anchor="middle" textLength="33.8" lengthAdjust="spacingAndGlyphs">2025</text><text x="70.2" y="518.1500000000001" text-anchor="end">0</text><text x="68.9" y="430.66" text-anchor="end" textLength="33.2" lengthAdjust="spacingAndGlyphs">1000</text><text x="68.9" y="343.87" text-anchor="end" textLength="33.2" lengthAdjust="spacingAndGlyphs">2000</text><text x="68.9" y="257.08000000000004" text-anchor="end" textLength="33.2" lengthAdjust="spacingAndGlyphs">3000</text><text x="68.9" y="170.29" text-anchor="end" textLength="33.2" lengthAdjust="spacingAndGlyphs">4000</text><text x="68.9" y="83.5" text-anchor="end" textLength="33.2" lengthAdjust="spacingAndGlyphs">5000</text></g><text x="532.5" y="581.7" text-anchor="middle" font-family="Liberation Sans, sans-serif" font-size="14">ds</text><text transform="translate(24.6,278.5) rotate(-90)" text-anchor="middle" font-family="Liberation Sans, sans-serif" font-size="14">y</text></svg></body></html>
